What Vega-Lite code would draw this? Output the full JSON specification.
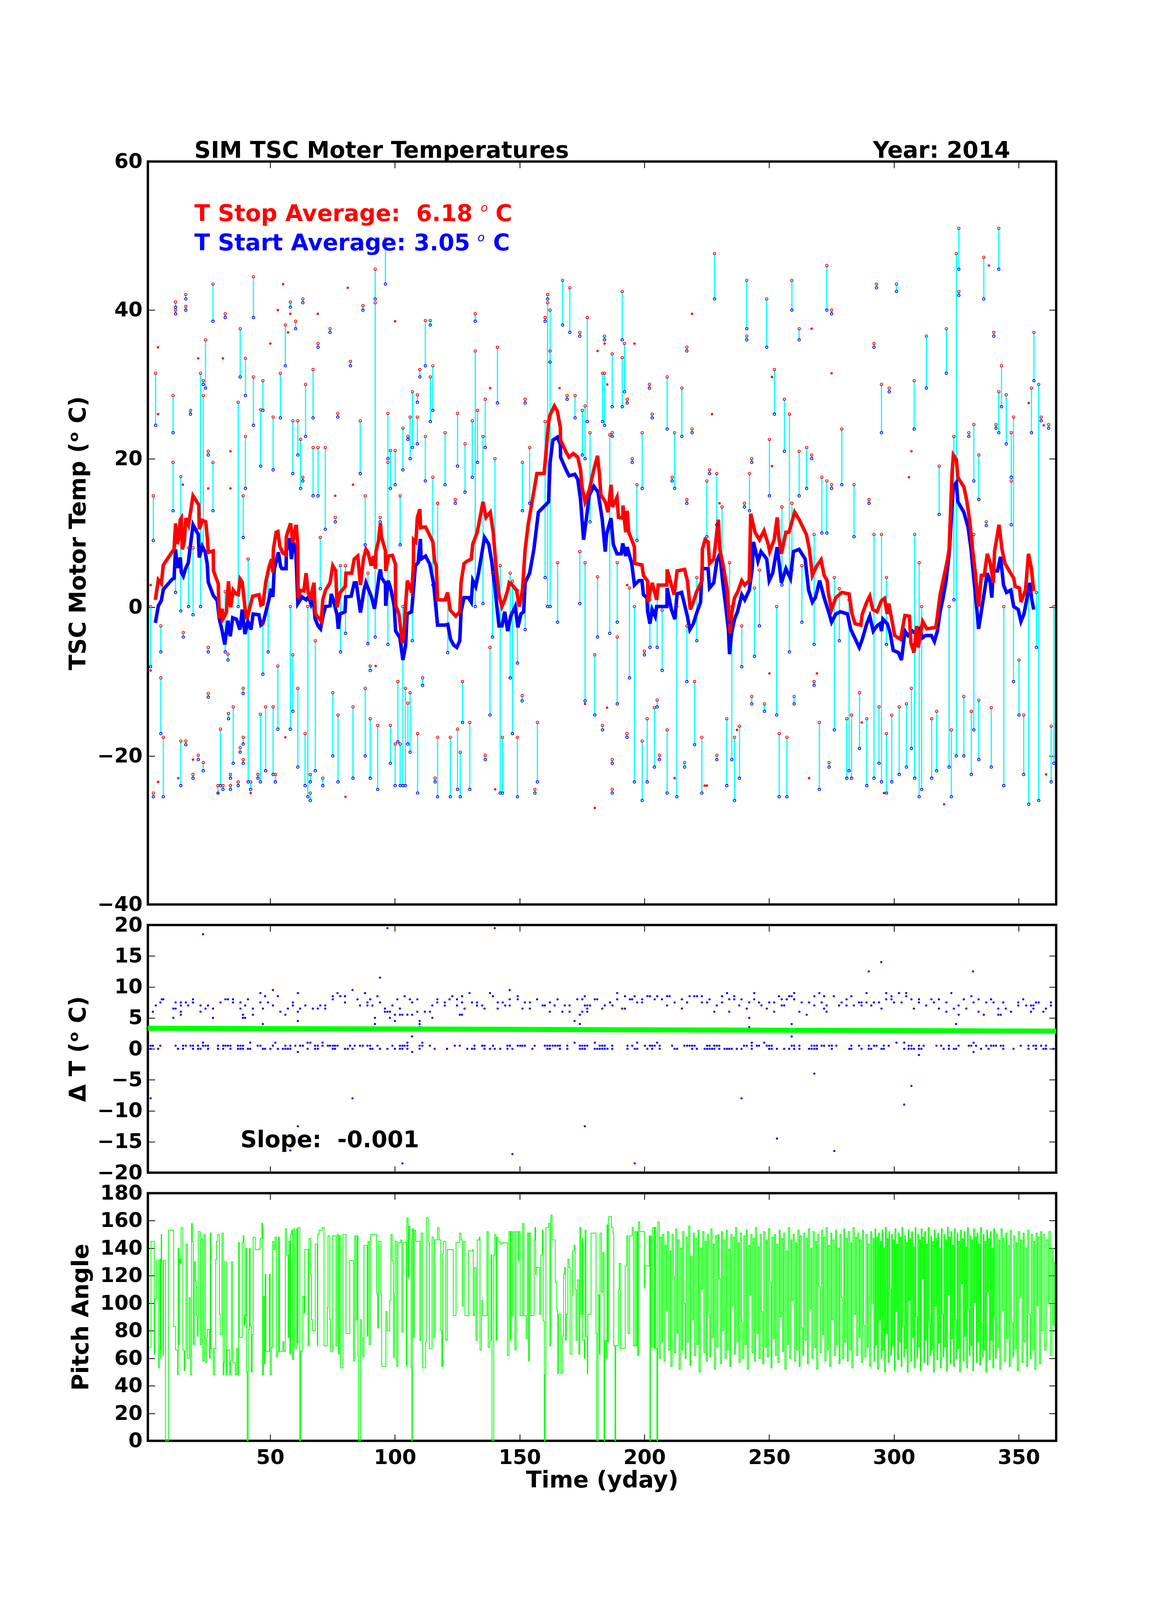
{
  "$schema": "https://vega.github.io/schema/vega-lite/v6.json",
  "background": "white",
  "padding": {"left": 168.5, "top": 353.5, "right": 10, "bottom": 300},
  "bounds": "flush",
  "spacing": 52.5,
  "config": {
    "font": "DejaVu Sans",
    "view": {"stroke": "black", "strokeWidth": 6},
    "axis": {
      "grid": false, "domain": false,
      "labelFont": "DejaVu Sans", "labelFontSize": 52, "labelFontWeight": "bold", "labelColor": "black",
      "titleFont": "DejaVu Sans", "titleFontSize": 58.5, "titleFontWeight": "bold", "titleColor": "black",
      "tickColor": "black", "tickWidth": 2, "labelOverlap": false
    },
    "text": {"font": "DejaVu Sans", "fontWeight": "bold", "fontSize": 58.5}
  },
  "datasets": {
    "ev": [
      {"d":2.1,"lo":-8.0,"hi":0.1},{"d":3.2,"lo":9.0,"hi":15.0},{"d":3.2,"lo":-25.5,"hi":-25.0},{"d":4.1,"lo":24.5,"hi":31.5},{"d":6.2,"lo":-17.0,"hi":-9.5},{"d":6.2,"lo":-6.0,"hi":-2.5},{"d":7.2,"lo":-25.5,"hi":-17.5},{"d":11.1,"lo":23.5,"hi":28.5},{"d":11.1,"lo":13.0,"hi":19.5},{"d":12.1,"lo":40.4,"hi":41.1},{"d":12.1,"lo":39.5,"hi":40.0},{"d":12.1,"lo":2.0,"hi":9.8},{"d":14.2,"lo":-0.5,"hi":17.6},{"d":14.2,"lo":-24.0,"hi":-18.0},{"d":15.2,"lo":-4.0,"hi":-3.4},{"d":16.2,"lo":41.5,"hi":42.1},{"d":16.2,"lo":40.0,"hi":40.5},{"d":16.2,"lo":-18.5,"hi":-18.0},{"d":17.3,"lo":0.1,"hi":8.0},{"d":18.1,"lo":26.0,"hi":26.5},{"d":19.1,"lo":-1.0,"hi":8.0},{"d":19.1,"lo":-23.0,"hi":-22.5},{"d":21.2,"lo":-20.5,"hi":-19.9},{"d":22.1,"lo":0.1,"hi":31.5},{"d":23.2,"lo":30.0,"hi":30.5},{"d":23.2,"lo":8.0,"hi":28.5},{"d":23.2,"lo":-22.0,"hi":-20.9},{"d":24.1,"lo":29.5,"hi":36.0},{"d":25.2,"lo":20.5,"hi":21.0},{"d":25.2,"lo":-6.0,"hi":-5.4},{"d":25.2,"lo":-12.1,"hi":-11.6},{"d":27.1,"lo":38.5,"hi":43.5},{"d":27.1,"lo":13.0,"hi":19.5},{"d":29.1,"lo":-25.0,"hi":-24.0},{"d":30.1,"lo":-24.0,"hi":-16.4},{"d":31.1,"lo":-24.5,"hi":-24.0},{"d":32.0,"lo":39.0,"hi":39.5},{"d":32.0,"lo":-6.0,"hi":2.1},{"d":33.1,"lo":-7.1,"hi":-6.3},{"d":33.3,"lo":-15.0,"hi":-14.3},{"d":34.1,"lo":-23.0,"hi":-22.5},{"d":34.1,"lo":-24.5,"hi":-24.0},{"d":35.2,"lo":-21.0,"hi":-13.4},{"d":37.2,"lo":0.1,"hi":27.6},{"d":37.2,"lo":-24.0,"hi":-23.5},{"d":38.0,"lo":31.0,"hi":37.5},{"d":38.0,"lo":-19.5,"hi":-18.9},{"d":39.2,"lo":9.4,"hi":15.0},{"d":39.2,"lo":-11.6,"hi":-10.9},{"d":39.2,"lo":-18.4,"hi":-17.5},{"d":39.2,"lo":-21.0,"hi":-20.5},{"d":40.1,"lo":28.5,"hi":33.5},{"d":40.1,"lo":16.0,"hi":23.0},{"d":41.2,"lo":-23.5,"hi":6.5},{"d":42.2,"lo":-24.5,"hi":-23.5},{"d":43.3,"lo":39.0,"hi":44.5},{"d":43.3,"lo":24.5,"hi":31.0},{"d":45.1,"lo":-23.0,"hi":-22.5},{"d":46.1,"lo":-23.5,"hi":-14.4},{"d":46.2,"lo":19.0,"hi":26.6},{"d":47.1,"lo":26.5,"hi":30.5},{"d":47.1,"lo":-9.0,"hi":-2.2},{"d":48.2,"lo":-22.0,"hi":-13.4},{"d":49.2,"lo":-6.0,"hi":4.6},{"d":51.2,"lo":18.5,"hi":25.6},{"d":51.2,"lo":-22.5,"hi":-13.4},{"d":52.1,"lo":-23.5,"hi":-22.5},{"d":53.1,"lo":-16.4,"hi":-7.9},{"d":54.1,"lo":25.5,"hi":31.5},{"d":56.1,"lo":32.5,"hi":38.0},{"d":58.1,"lo":40.4,"hi":41.1},{"d":58.1,"lo":-16.4,"hi":0.1},{"d":59.1,"lo":18.0,"hi":25.1},{"d":59.1,"lo":-14.0,"hi":-6.4},{"d":60.2,"lo":37.5,"hi":38.5},{"d":61.1,"lo":20.5,"hi":25.1},{"d":61.1,"lo":-21.5,"hi":-10.9},{"d":62.2,"lo":16.0,"hi":22.6},{"d":63.1,"lo":41.0,"hi":41.5},{"d":63.1,"lo":17.0,"hi":17.5},{"d":64.0,"lo":-24.0,"hi":-17.0},{"d":64.2,"lo":23.0,"hi":30.0},{"d":65.1,"lo":-25.5,"hi":0.1},{"d":66.1,"lo":-23.5,"hi":-22.5},{"d":66.1,"lo":-26.0,"hi":-25.0},{"d":67.2,"lo":25.5,"hi":32.0},{"d":67.2,"lo":15.0,"hi":21.5},{"d":68.1,"lo":-22.0,"hi":-4.5},{"d":69.2,"lo":35.0,"hi":35.5},{"d":69.2,"lo":15.0,"hi":21.5},{"d":70.1,"lo":2.5,"hi":9.4},{"d":71.1,"lo":-24.0,"hi":-23.0},{"d":72.1,"lo":10.5,"hi":21.5},{"d":74.0,"lo":37.0,"hi":37.5},{"d":75.1,"lo":-20.0,"hi":-11.5},{"d":76.1,"lo":11.5,"hi":12.1},{"d":77.1,"lo":25.6,"hi":26.1},{"d":77.2,"lo":-23.5,"hi":-14.5},{"d":78.2,"lo":-6.0,"hi":5.6},{"d":80.2,"lo":-3.5,"hi":5.6},{"d":82.2,"lo":32.5,"hi":33.1},{"d":83.2,"lo":-23.0,"hi":-13.4},{"d":86.1,"lo":18.0,"hi":25.1},{"d":87.2,"lo":40.0,"hi":40.6},{"d":88.1,"lo":8.4,"hi":15.0},{"d":88.1,"lo":-20.0,"hi":-10.9},{"d":89.2,"lo":-4.9,"hi":4.6},{"d":90.1,"lo":-8.5,"hi":-7.9},{"d":90.1,"lo":-23.0,"hi":-15.0},{"d":92.1,"lo":41.5,"hi":45.5},{"d":92.1,"lo":-4.0,"hi":41.0},{"d":93.1,"lo":-24.5,"hi":-15.9},{"d":94.1,"lo":11.5,"hi":12.1},{"d":96.2,"lo":43.5,"hi":49.6},{"d":97.2,"lo":20.0,"hi":26.1},{"d":97.2,"lo":-5.0,"hi":19.5},{"d":98.2,"lo":16.0,"hi":21.1},{"d":98.2,"lo":-21.0,"hi":-15.9},{"d":100.1,"lo":16.5,"hi":21.1},{"d":100.1,"lo":-24.0,"hi":-18.4},{"d":101.2,"lo":-18.1,"hi":-10.0},{"d":102.1,"lo":8.4,"hi":15.0},{"d":102.1,"lo":-24.0,"hi":-18.4},{"d":103.2,"lo":18.5,"hi":24.1},{"d":103.2,"lo":-24.0,"hi":0.1},{"d":104.2,"lo":-24.0,"hi":-10.9},{"d":105.2,"lo":22.6,"hi":23.0},{"d":105.2,"lo":-18.4,"hi":-12.9},{"d":106.1,"lo":20.0,"hi":25.6},{"d":106.1,"lo":-19.5,"hi":-11.5},{"d":107.0,"lo":21.5,"hi":29.0},{"d":107.0,"lo":-4.5,"hi":1.7},{"d":109.0,"lo":27.6,"hi":28.6},{"d":109.0,"lo":22.0,"hi":25.6},{"d":109.1,"lo":-25.0,"hi":-17.0},{"d":110.0,"lo":31.0,"hi":32.0},{"d":111.1,"lo":-10.5,"hi":-9.5},{"d":112.2,"lo":32.5,"hi":38.6},{"d":112.2,"lo":17.0,"hi":23.0},{"d":114.2,"lo":38.0,"hi":38.6},{"d":114.2,"lo":25.0,"hi":31.0},{"d":115.2,"lo":26.5,"hi":32.5},{"d":115.2,"lo":3.0,"hi":17.5},{"d":116.1,"lo":-23.5,"hi":-23.0},{"d":117.1,"lo":-2.0,"hi":14.0},{"d":117.1,"lo":-25.5,"hi":-17.5},{"d":120.1,"lo":16.5,"hi":23.5},{"d":121.2,"lo":-6.1,"hi":1.0},{"d":122.2,"lo":-25.5,"hi":-17.5},{"d":124.2,"lo":14.0,"hi":14.5},{"d":125.1,"lo":19.0,"hi":26.1},{"d":125.1,"lo":-24.5,"hi":-16.4},{"d":126.2,"lo":-25.5,"hi":-19.5},{"d":127.1,"lo":-15.5,"hi":-10.0},{"d":128.1,"lo":15.5,"hi":22.0},{"d":130.0,"lo":-24.5,"hi":-15.5},{"d":131.0,"lo":17.5,"hi":25.1},{"d":132.2,"lo":38.5,"hi":39.5},{"d":132.2,"lo":0.1,"hi":34.5},{"d":133.1,"lo":19.5,"hi":26.5},{"d":135.3,"lo":0.5,"hi":23.0},{"d":136.2,"lo":21.5,"hi":28.0},{"d":136.2,"lo":-20.5,"hi":-19.9},{"d":138.1,"lo":-14.5,"hi":-5.4},{"d":139.1,"lo":-4.0,"hi":4.6},{"d":140.1,"lo":3.0,"hi":20.0},{"d":141.1,"lo":27.5,"hi":35.0},{"d":142.2,"lo":-25.0,"hi":5.6},{"d":143.1,"lo":-25.0,"hi":-17.5},{"d":146.2,"lo":-9.5,"hi":4.6},{"d":147.1,"lo":-17.0,"hi":3.5},{"d":149.1,"lo":-7.5,"hi":2.3},{"d":149.1,"lo":-25.5,"hi":-17.5},{"d":151.0,"lo":-12.6,"hi":-11.9},{"d":151.1,"lo":13.0,"hi":19.5},{"d":152.2,"lo":27.5,"hi":28.0},{"d":152.2,"lo":-3.0,"hi":3.6},{"d":154.0,"lo":14.0,"hi":21.5},{"d":156.1,"lo":-25.0,"hi":-24.5},{"d":157.1,"lo":-23.5,"hi":-15.5},{"d":160.2,"lo":38.5,"hi":39.0},{"d":160.2,"lo":4.0,"hi":25.0},{"d":161.2,"lo":41.5,"hi":42.1},{"d":161.2,"lo":0.1,"hi":41.0},{"d":162.2,"lo":0.1,"hi":40.0},{"d":162.2,"lo":33.0,"hi":34.5},{"d":165.2,"lo":-2.0,"hi":6.0},{"d":167.2,"lo":38.0,"hi":44.0},{"d":169.0,"lo":28.0,"hi":28.5},{"d":170.1,"lo":37.0,"hi":43.0},{"d":172.2,"lo":25.5,"hi":28.5},{"d":174.1,"lo":36.5,"hi":37.0},{"d":174.1,"lo":0.5,"hi":7.5},{"d":175.1,"lo":20.5,"hi":26.5},{"d":176.2,"lo":20.0,"hi":27.1},{"d":176.2,"lo":-12.6,"hi":6.0},{"d":177.1,"lo":25.0,"hi":39.0},{"d":178.2,"lo":11.5,"hi":23.5},{"d":180.1,"lo":-14.5,"hi":-6.4},{"d":181.2,"lo":-4.0,"hi":4.1},{"d":183.2,"lo":25.0,"hi":31.5},{"d":183.2,"lo":-16.5,"hi":-15.9},
      {"d":184.0,"lo":36.0,"hi":36.5},{"d":184.0,"lo":24.5,"hi":31.5},{"d":186.1,"lo":-3.5,"hi":23.2},{"d":187.1,"lo":27.0,"hi":34.1},{"d":187.1,"lo":23.0,"hi":23.5},{"d":187.1,"lo":-21.0,"hi":-20.5},{"d":187.1,"lo":-25.0,"hi":-24.5},{"d":189.1,"lo":-2.0,"hi":6.0},{"d":189.1,"lo":-13.0,"hi":-4.0},{"d":191.1,"lo":36.0,"hi":42.5},{"d":191.1,"lo":27.0,"hi":33.6},{"d":192.0,"lo":29.0,"hi":35.5},{"d":193.0,"lo":-17.5,"hi":-17.0},{"d":193.1,"lo":27.5,"hi":28.0},{"d":194.0,"lo":-9.5,"hi":2.6},{"d":195.1,"lo":19.5,"hi":20.0},{"d":196.0,"lo":-23.5,"hi":0.1},{"d":197.0,"lo":9.0,"hi":16.5},{"d":199.1,"lo":16.0,"hi":23.5},{"d":199.1,"lo":-26.0,"hi":-18.0},{"d":200.0,"lo":-6.4,"hi":-5.9},{"d":201.1,"lo":-23.5,"hi":-15.0},{"d":202.0,"lo":29.5,"hi":30.0},{"d":202.2,"lo":-5.4,"hi":1.0},{"d":203.1,"lo":25.5,"hi":26.0},{"d":204.0,"lo":-21.5,"hi":-13.5},{"d":205.1,"lo":-13.4,"hi":-12.5},{"d":205.1,"lo":-5.4,"hi":2.2},{"d":206.0,"lo":-20.5,"hi":-19.9},{"d":207.1,"lo":-8.5,"hi":-0.4},{"d":209.1,"lo":24.0,"hi":31.0},{"d":209.1,"lo":-25.0,"hi":-16.5},{"d":211.1,"lo":17.0,"hi":17.5},{"d":212.1,"lo":16.0,"hi":23.5},{"d":213.0,"lo":-25.5,"hi":0.1},{"d":215.0,"lo":23.0,"hi":29.5},{"d":216.1,"lo":-21.5,"hi":-20.9},{"d":217.0,"lo":34.5,"hi":35.0},{"d":217.0,"lo":14.0,"hi":14.5},{"d":217.0,"lo":-10.0,"hi":-2.5},{"d":219.1,"lo":23.5,"hi":24.0},{"d":220.1,"lo":-18.5,"hi":-10.0},{"d":221.0,"lo":-4.5,"hi":4.0},{"d":223.0,"lo":-25.0,"hi":-17.5},{"d":225.0,"lo":9.5,"hi":17.0},{"d":226.1,"lo":18.0,"hi":18.5},{"d":228.1,"lo":41.5,"hi":47.6},{"d":229.0,"lo":11.1,"hi":18.0},{"d":229.0,"lo":-20.5,"hi":-19.9},{"d":231.1,"lo":5.0,"hi":13.5},{"d":233.0,"lo":-24.0,"hi":-15.0},{"d":234.1,"lo":-2.0,"hi":6.0},{"d":235.0,"lo":-20.5,"hi":0.1},{"d":236.1,"lo":-26.0,"hi":-17.5},{"d":238.1,"lo":-23.0,"hi":-16.0},{"d":239.0,"lo":-8.0,"hi":-2.5},{"d":240.1,"lo":13.5,"hi":14.0},{"d":241.0,"lo":37.5,"hi":44.0},{"d":241.0,"lo":36.0,"hi":36.5},{"d":242.1,"lo":13.0,"hi":18.0},{"d":243.0,"lo":19.5,"hi":20.0},{"d":243.0,"lo":-13.0,"hi":-12.0},{"d":244.1,"lo":-6.6,"hi":2.6},{"d":246.1,"lo":-2.5,"hi":5.0},{"d":248.1,"lo":-14.0,"hi":-13.0},{"d":249.0,"lo":35.0,"hi":41.5},{"d":250.1,"lo":15.0,"hi":22.6},{"d":252.1,"lo":26.0,"hi":32.0},{"d":253.0,"lo":-14.5,"hi":0.1},{"d":254.0,"lo":-25.5,"hi":-17.0},{"d":255.1,"lo":3.0,"hi":13.5},{"d":256.1,"lo":21.0,"hi":28.0},{"d":257.1,"lo":-25.5,"hi":-17.5},{"d":258.1,"lo":-6.0,"hi":26.0},{"d":259.1,"lo":40.0,"hi":44.0},{"d":259.1,"lo":5.0,"hi":14.0},{"d":260.0,"lo":-13.0,"hi":-12.0},{"d":262.0,"lo":36.0,"hi":37.5},{"d":262.0,"lo":15.0,"hi":21.0},{"d":263.1,"lo":-2.0,"hi":5.6},{"d":265.0,"lo":16.0,"hi":21.5},{"d":267.0,"lo":20.0,"hi":20.5},{"d":268.0,"lo":-10.5,"hi":-10.0},{"d":268.0,"lo":-5.0,"hi":9.8},{"d":270.1,"lo":-24.5,"hi":-15.5},{"d":271.1,"lo":10.0,"hi":17.5},{"d":273.1,"lo":40.0,"hi":46.0},{"d":273.1,"lo":10.0,"hi":17.0},{"d":274.0,"lo":-21.5,"hi":-20.9},{"d":275.0,"lo":39.5,"hi":40.0},{"d":275.0,"lo":16.0,"hi":16.5},{"d":276.1,"lo":-16.5,"hi":4.0},{"d":278.1,"lo":-4.5,"hi":2.5},{"d":279.1,"lo":16.5,"hi":24.0},{"d":281.1,"lo":-23.0,"hi":-15.0},{"d":282.0,"lo":-22.0,"hi":1.0},{"d":283.0,"lo":-23.0,"hi":-14.5},{"d":284.0,"lo":9.5,"hi":16.5},{"d":286.2,"lo":-19.0,"hi":-11.5},{"d":289.1,"lo":-24.0,"hi":-15.0},{"d":290.0,"lo":14.0,"hi":14.5},{"d":292.0,"lo":35.0,"hi":35.5},{"d":292.0,"lo":-23.0,"hi":9.8},{"d":293.0,"lo":43.0,"hi":43.5},{"d":294.0,"lo":-21.0,"hi":-13.4},{"d":295.0,"lo":23.5,"hi":30.0},{"d":295.0,"lo":-23.5,"hi":9.8},{"d":297.0,"lo":-25.0,"hi":-17.0},{"d":297.0,"lo":-5.0,"hi":4.0},{"d":298.1,"lo":29.0,"hi":29.5},{"d":299.1,"lo":-23.5,"hi":-14.5},{"d":301.0,"lo":42.5,"hi":43.5},{"d":302.1,"lo":-22.5,"hi":-13.4},{"d":305.0,"lo":-21.5,"hi":-13.0},{"d":307.0,"lo":-19.0,"hi":-10.9},{"d":308.1,"lo":24.0,"hi":30.5},{"d":308.3,"lo":-23.0,"hi":9.8},{"d":310.1,"lo":-25.5,"hi":6.0},{"d":311.1,"lo":-24.5,"hi":0.1},{"d":313.0,"lo":29.5,"hi":36.5},{"d":315.1,"lo":-23.0,"hi":-15.0},{"d":317.1,"lo":-22.0,"hi":-14.0},{"d":318.1,"lo":12.5,"hi":19.0},{"d":321.0,"lo":31.5,"hi":37.5},{"d":322.1,"lo":-21.5,"hi":0.1},{"d":323.0,"lo":-25.5,"hi":-16.5},{"d":324.0,"lo":1.0,"hi":23.0},{"d":325.0,"lo":-20.0,"hi":47.6},{"d":326.0,"lo":45.5,"hi":51.0},{"d":326.0,"lo":42.0,"hi":42.5},{"d":328.0,"lo":-20.0,"hi":-12.0},{"d":330.0,"lo":23.0,"hi":23.5},{"d":331.0,"lo":-22.5,"hi":-14.0},{"d":332.0,"lo":17.0,"hi":24.6},{"d":332.0,"lo":-16.5,"hi":9.8},{"d":334.0,"lo":14.5,"hi":20.5},{"d":334.0,"lo":-20.5,"hi":-12.5},{"d":336.0,"lo":41.5,"hi":47.1},{"d":337.0,"lo":11.0,"hi":11.5},{"d":339.0,"lo":-21.5,"hi":-13.5},{"d":340.0,"lo":36.5,"hi":37.0},{"d":340.9,"lo":24.1,"hi":24.6},{"d":342.0,"lo":45.5,"hi":51.0},{"d":342.0,"lo":23.5,"hi":29.0},{"d":343.1,"lo":27.0,"hi":32.5},{"d":344.0,"lo":-24.0,"hi":0.1},{"d":345.0,"lo":22.0,"hi":28.6},{"d":347.0,"lo":17.5,"hi":23.5},{"d":347.0,"lo":11.1,"hi":17.0},{"d":347.9,"lo":-10.0,"hi":25.6},{"d":350.1,"lo":-14.5,"hi":-7.1},{"d":352.0,"lo":-22.5,"hi":-14.5},{"d":354.0,"lo":-26.5,"hi":2.0},{"d":355.1,"lo":23.5,"hi":29.5},{"d":356.1,"lo":30.5,"hi":37.0},{"d":357.1,"lo":-5.4,"hi":2.0},{"d":358.0,"lo":-26.0,"hi":30.0},{"d":359.0,"lo":25.1,"hi":25.6},{"d":362.0,"lo":24.1,"hi":24.6},{"d":363.0,"lo":-23.5,"hi":-16.0},{"d":364.1,"lo":-21.0,"hi":0.1}
    ],
    "dots": [
      {"d":2.1,"v":3.0},{"d":2.1,"v":-8.5},{"d":5.1,"v":35.0},{"d":5.1,"v":26.0},{"d":5.1,"v":-23.5},{"d":13.2,"v":-23.0},{"d":15.0,"v":16.5},{"d":19.1,"v":-20.5},{"d":21.2,"v":33.5},{"d":25.2,"v":16.0},{"d":29.1,"v":-25.0},{"d":31.1,"v":33.5},{"d":34.1,"v":21.0},{"d":34.1,"v":16.0},{"d":42.2,"v":-25.0},{"d":50.1,"v":35.5},{"d":53.1,"v":40.0},{"d":55.2,"v":43.5},{"d":56.1,"v":-17.5},{"d":57.2,"v":37.0},{"d":58.1,"v":39.5},{"d":69.1,"v":39.5},{"d":76.1,"v":15.0},{"d":80.2,"v":-25.5},{"d":81.1,"v":43.0},{"d":83.2,"v":16.5},{"d":92.3,"v":-7.9},{"d":100.1,"v":38.5},{"d":138.2,"v":29.5},{"d":140.2,"v":-24.5},{"d":166.0,"v":29.5},{"d":176.2,"v":-13.0},{"d":180.1,"v":-27.0},{"d":181.2,"v":34.5},{"d":184.0,"v":35.5},{"d":185.0,"v":-13.5},{"d":185.1,"v":30.0},{"d":193.1,"v":3.0},{"d":196.0,"v":35.5},{"d":212.1,"v":-23.0},{"d":219.1,"v":39.5},{"d":224.1,"v":-24.0},{"d":225.0,"v":-24.0},{"d":227.1,"v":26.0},{"d":230.1,"v":14.0},{"d":237.1,"v":-16.5},{"d":250.1,"v":-8.9},{"d":251.1,"v":31.0},{"d":251.1,"v":19.0},{"d":266.0,"v":-23.0},{"d":267.0,"v":37.5},{"d":269.1,"v":-8.9},{"d":275.0,"v":31.5},{"d":287.1,"v":-15.5},{"d":296.0,"v":-25.0},{"d":306.0,"v":17.5},{"d":307.0,"v":21.0},{"d":320.1,"v":-26.5},{"d":338.0,"v":46.0},{"d":354.0,"v":27.5},{"d":360.0,"v":24.5},{"d":361.0,"v":-22.5}
    ],
    "stp": [
      {"d":4.0,"v":1.0},{"d":5.2,"v":3.7},{"d":6.4,"v":3.2},{"d":7.2,"v":5.7},{"d":10.8,"v":7.5},{"d":11.5,"v":7.8},{"d":12.1,"v":11.3},{"d":12.8,"v":8.5},{"d":13.2,"v":9.1},{"d":14.0,"v":11.8},{"d":14.4,"v":12.0},{"d":14.8,"v":7.8},{"d":15.6,"v":8.8},{"d":16.2,"v":12.0},{"d":17.3,"v":11.1},{"d":19.1,"v":15.0},{"d":21.4,"v":13.8},{"d":21.6,"v":10.5},{"d":22.8,"v":11.7},{"d":24.2,"v":11.5},{"d":24.9,"v":9.1},{"d":25.2,"v":7.4},{"d":27.2,"v":7.6},{"d":27.3,"v":4.9},{"d":29.2,"v":3.2},{"d":29.6,"v":-1.5},{"d":30.8,"v":-0.2},{"d":31.0,"v":-1.6},{"d":32.0,"v":-1.0},{"d":32.5,"v":-0.6},{"d":33.3,"v":3.5},{"d":34.2,"v":0.0},{"d":35.2,"v":2.3},{"d":36.3,"v":1.8},{"d":37.2,"v":1.7},{"d":38.0,"v":3.8},{"d":38.8,"v":3.4},{"d":39.9,"v":0.0},{"d":40.7,"v":-1.6},{"d":41.5,"v":-0.5},{"d":43.0,"v":1.5},{"d":45.5,"v":1.7},{"d":46.3,"v":0.3},{"d":47.1,"v":0.4},{"d":48.3,"v":3.5},{"d":49.6,"v":5.5},{"d":50.6,"v":6.5},{"d":51.1,"v":4.7},{"d":51.3,"v":7.8},{"d":52.4,"v":10.1},{"d":53.1,"v":10.2},{"d":53.9,"v":8.2},{"d":55.1,"v":7.3},{"d":56.3,"v":7.1},{"d":56.5,"v":9.5},{"d":57.0,"v":10.1},{"d":58.2,"v":11.3},{"d":59.1,"v":8.7},{"d":60.3,"v":10.9},{"d":60.5,"v":10.9},{"d":61.1,"v":8.2},{"d":61.2,"v":1.2},{"d":62.2,"v":2.3},{"d":63.5,"v":2.2},{"d":64.4,"v":4.6},{"d":65.2,"v":2.0},{"d":66.4,"v":1.0},{"d":66.7,"v":2.1},{"d":67.6,"v":3.3},{"d":68.1,"v":-0.9},{"d":69.9,"v":-1.6},{"d":70.5,"v":-1.9},{"d":71.1,"v":1.0},{"d":72.2,"v":2.3},{"d":74.0,"v":3.3},{"d":75.1,"v":5.6},{"d":76.3,"v":4.9},{"d":76.8,"v":0.0},{"d":78.1,"v":2.0},{"d":80.1,"v":2.8},{"d":80.4,"v":4.6},{"d":82.7,"v":4.6},{"d":83.7,"v":6.5},{"d":85.1,"v":6.9},{"d":86.2,"v":3.0},{"d":87.4,"v":6.5},{"d":88.4,"v":7.8},{"d":89.2,"v":7.4},{"d":90.5,"v":5.6},{"d":91.4,"v":6.9},{"d":92.2,"v":5.2},{"d":92.4,"v":7.5},{"d":93.4,"v":8.9},{"d":94.2,"v":11.3},{"d":94.6,"v":9.5},{"d":96.2,"v":7.6},{"d":96.3,"v":4.9},{"d":97.5,"v":6.9},{"d":99.0,"v":7.0},{"d":100.2,"v":5.8},{"d":100.3,"v":0.3},{"d":101.6,"v":-0.9},{"d":103.0,"v":-4.8},{"d":103.8,"v":-2.9},{"d":104.3,"v":0.4},{"d":105.0,"v":3.6},{"d":106.7,"v":2.0},{"d":107.4,"v":5.6},{"d":107.5,"v":9.1},{"d":108.4,"v":8.8},{"d":109.0,"v":12.1},{"d":110.0,"v":13.2},{"d":110.3,"v":10.7},{"d":111.3,"v":10.8},{"d":112.3,"v":10.8},{"d":114.2,"v":9.5},{"d":115.2,"v":8.8},{"d":115.9,"v":6.2},{"d":116.6,"v":5.6},{"d":117.1,"v":1.0},{"d":120.1,"v":1.0},{"d":121.1,"v":2.0},{"d":122.2,"v":-0.4},{"d":124.4,"v":-1.2},{"d":126.0,"v":-0.6},{"d":126.5,"v":3.3},{"d":127.7,"v":5.9},{"d":128.9,"v":6.2},{"d":130.6,"v":6.5},{"d":131.2,"v":8.5},{"d":133.0,"v":10.1},{"d":135.3,"v":14.2},{"d":136.5,"v":12.1},{"d":138.2,"v":12.8},{"d":139.4,"v":10.1},{"d":140.6,"v":5.2},{"d":141.7,"v":1.7},{"d":142.9,"v":0.1},{"d":144.0,"v":1.0},{"d":145.2,"v":2.3},{"d":145.8,"v":3.3},{"d":147.0,"v":3.0},{"d":148.7,"v":2.3},{"d":149.9,"v":0.1},{"d":151.1,"v":2.3},{"d":152.2,"v":7.8},{"d":153.4,"v":11.1},{"d":156.9,"v":18.0},{"d":159.8,"v":18.0},{"d":161.6,"v":24.9},{"d":162.2,"v":25.9},{"d":163.9,"v":27.1},{"d":165.1,"v":26.4},{"d":166.3,"v":24.2},{"d":166.4,"v":22.5},{"d":168.6,"v":20.9},{"d":169.8,"v":20.2},{"d":171.5,"v":20.7},{"d":173.3,"v":20.2},{"d":174.4,"v":18.5},{"d":175.0,"v":16.2},{"d":176.2,"v":14.2},{"d":177.9,"v":15.8},{"d":179.7,"v":18.5},{"d":181.2,"v":20.4},{"d":182.0,"v":17.8},{"d":182.5,"v":15.2},{"d":184.3,"v":14.2},{"d":185.4,"v":12.8},{"d":186.6,"v":16.5},{"d":187.2,"v":13.5},{"d":189.0,"v":14.8},{"d":189.6,"v":12.1},{"d":191.3,"v":12.0},{"d":191.4,"v":13.7},{"d":192.5,"v":10.1},{"d":193.1,"v":13.0},{"d":193.7,"v":10.1},{"d":194.9,"v":9.1},{"d":196.0,"v":8.1},{"d":196.1,"v":5.9},{"d":199.0,"v":5.7},{"d":199.6,"v":4.3},{"d":201.3,"v":3.5},{"d":201.4,"v":0.7},{"d":203.1,"v":3.3},{"d":204.9,"v":1.0},{"d":205.5,"v":3.0},{"d":209.0,"v":3.0},{"d":209.1,"v":5.1},{"d":210.8,"v":3.0},{"d":211.9,"v":1.7},{"d":213.1,"v":4.9},{"d":216.1,"v":5.1},{"d":217.2,"v":3.6},{"d":218.4,"v":-0.3},{"d":219.6,"v":0.7},{"d":220.8,"v":2.0},{"d":223.1,"v":3.6},{"d":223.2,"v":7.8},{"d":224.3,"v":9.1},{"d":225.5,"v":8.8},{"d":226.1,"v":5.9},{"d":227.8,"v":6.5},{"d":229.0,"v":10.1},{"d":229.6,"v":11.8},{"d":230.2,"v":7.8},{"d":231.4,"v":5.9},{"d":233.1,"v":2.6},{"d":234.3,"v":-3.5},{"d":234.9,"v":-0.9},{"d":236.1,"v":1.3},{"d":237.3,"v":2.0},{"d":239.0,"v":3.6},{"d":240.2,"v":3.0},{"d":242.0,"v":3.6},{"d":242.6,"v":12.6},{"d":244.3,"v":10.1},{"d":246.1,"v":9.1},{"d":247.9,"v":10.3},{"d":249.6,"v":8.5},{"d":250.2,"v":7.5},{"d":252.0,"v":9.1},{"d":253.2,"v":12.1},{"d":253.8,"v":9.5},{"d":254.9,"v":7.2},{"d":256.7,"v":10.1},{"d":257.9,"v":10.1},{"d":260.2,"v":12.8},{"d":262.0,"v":11.8},{"d":264.9,"v":9.8},{"d":266.1,"v":7.8},{"d":267.3,"v":4.3},{"d":269.1,"v":5.6},{"d":270.8,"v":6.4},{"d":272.0,"v":4.3},{"d":273.2,"v":3.6},{"d":273.8,"v":1.7},{"d":275.0,"v":-0.3},{"d":276.7,"v":1.3},{"d":279.1,"v":2.0},{"d":282.0,"v":1.8},{"d":283.2,"v":-0.9},{"d":284.4,"v":-2.2},{"d":286.7,"v":-2.4},{"d":287.3,"v":-0.9},{"d":289.1,"v":0.7},{"d":290.3,"v":1.5},{"d":291.5,"v":-0.3},{"d":293.2,"v":-0.6},{"d":295.0,"v":0.9},{"d":296.2,"v":1.2},{"d":297.3,"v":-0.9},{"d":297.9,"v":0.5},{"d":299.1,"v":-1.6},{"d":300.3,"v":-3.8},{"d":302.6,"v":-4.3},{"d":304.4,"v":-1.1},{"d":306.2,"v":-1.2},{"d":306.8,"v":-4.8},{"d":308.0,"v":-6.1},{"d":309.1,"v":-2.5},{"d":309.7,"v":-5.4},{"d":311.5,"v":-1.9},{"d":313.2,"v":-2.9},{"d":316.8,"v":-2.7},{"d":318.5,"v":1.7},{"d":319.7,"v":3.6},{"d":321.5,"v":6.5},{"d":322.1,"v":7.8},{"d":323.3,"v":18.2},{"d":323.8,"v":20.5},{"d":325.0,"v":19.9},{"d":325.6,"v":17.5},{"d":328.0,"v":16.2},{"d":329.1,"v":14.5},{"d":330.3,"v":11.8},{"d":331.5,"v":7.8},{"d":332.7,"v":4.3},{"d":333.9,"v":0.1},{"d":335.0,"v":4.3},{"d":336.2,"v":4.3},{"d":337.4,"v":7.2},{"d":338.6,"v":5.9},{"d":339.8,"v":3.3},{"d":340.3,"v":7.5},{"d":342.1,"v":11.1},{"d":343.3,"v":7.8},{"d":344.5,"v":5.9},{"d":346.2,"v":4.9},{"d":348.0,"v":3.9},{"d":348.6,"v":2.8},{"d":350.3,"v":2.6},{"d":350.9,"v":0.7},{"d":352.7,"v":2.3},{"d":353.9,"v":7.2},{"d":355.1,"v":5.2},{"d":356.0,"v":2.2}
    ],
    "sta": [
      {"d":4.0,"v":-2.1},{"d":5.2,"v":0.2},{"d":6.4,"v":0.9},{"d":7.2,"v":2.4},{"d":10.8,"v":3.8},{"d":11.5,"v":3.9},{"d":12.1,"v":7.8},{"d":12.8,"v":5.3},{"d":14.0,"v":6.7},{"d":14.4,"v":4.7},{"d":15.2,"v":4.2},{"d":16.0,"v":5.1},{"d":17.2,"v":6.0},{"d":19.1,"v":11.1},{"d":21.2,"v":9.8},{"d":21.6,"v":6.7},{"d":22.8,"v":8.2},{"d":24.0,"v":7.4},{"d":24.8,"v":5.8},{"d":25.2,"v":3.4},{"d":27.2,"v":1.6},{"d":28.8,"v":0.9},{"d":29.6,"v":-1.5},{"d":30.8,"v":-3.2},{"d":31.8,"v":-5.0},{"d":33.1,"v":-1.8},{"d":34.0,"v":-3.9},{"d":35.0,"v":-1.4},{"d":36.5,"v":-1.6},{"d":37.9,"v":-3.0},{"d":38.8,"v":-0.3},{"d":39.9,"v":-3.6},{"d":41.1,"v":-1.9},{"d":42.3,"v":-3.0},{"d":43.2,"v":-0.9},{"d":45.5,"v":-1.0},{"d":46.3,"v":-2.4},{"d":47.1,"v":-2.2},{"d":48.3,"v":-0.6},{"d":49.5,"v":1.0},{"d":50.3,"v":2.5},{"d":51.1,"v":1.4},{"d":51.6,"v":5.0},{"d":53.3,"v":7.4},{"d":54.2,"v":5.5},{"d":54.7,"v":5.2},{"d":56.4,"v":5.2},{"d":56.5,"v":7.6},{"d":57.8,"v":9.3},{"d":58.5,"v":6.5},{"d":59.4,"v":8.7},{"d":60.3,"v":7.6},{"d":61.1,"v":0.5},{"d":62.8,"v":1.4},{"d":64.4,"v":1.0},{"d":65.4,"v":1.4},{"d":66.4,"v":0.4},{"d":67.3,"v":1.2},{"d":68.0,"v":-1.5},{"d":69.2,"v":-2.5},{"d":70.2,"v":-2.9},{"d":71.3,"v":-1.0},{"d":72.2,"v":0.1},{"d":74.0,"v":0.2},{"d":74.5,"v":1.8},{"d":75.3,"v":1.0},{"d":76.8,"v":-1.0},{"d":77.3,"v":-2.9},{"d":78.0,"v":-0.9},{"d":80.0,"v":-0.6},{"d":80.3,"v":1.4},{"d":82.5,"v":1.5},{"d":83.7,"v":3.3},{"d":84.5,"v":3.3},{"d":86.2,"v":-0.7},{"d":87.6,"v":2.3},{"d":88.4,"v":3.3},{"d":90.7,"v":1.3},{"d":91.8,"v":-0.2},{"d":92.7,"v":1.8},{"d":93.8,"v":4.6},{"d":94.2,"v":5.1},{"d":94.6,"v":4.0},{"d":96.2,"v":3.2},{"d":96.3,"v":0.2},{"d":97.3,"v":3.6},{"d":98.4,"v":2.4},{"d":99.7,"v":0.2},{"d":100.3,"v":-3.2},{"d":102.0,"v":-4.1},{"d":103.2,"v":-7.1},{"d":104.3,"v":-5.1},{"d":104.9,"v":-0.9},{"d":106.7,"v":-0.6},{"d":107.5,"v":2.6},{"d":108.2,"v":5.6},{"d":109.3,"v":6.0},{"d":110.2,"v":9.2},{"d":110.5,"v":6.5},{"d":112.3,"v":6.9},{"d":114.0,"v":5.8},{"d":115.5,"v":3.2},{"d":117.1,"v":-2.4},{"d":120.1,"v":-2.4},{"d":121.2,"v":-2.3},{"d":122.3,"v":-4.3},{"d":123.6,"v":-5.1},{"d":124.8,"v":-5.4},{"d":126.0,"v":-4.5},{"d":126.5,"v":-0.6},{"d":127.7,"v":1.3},{"d":129.5,"v":1.3},{"d":130.6,"v":0.7},{"d":131.2,"v":3.6},{"d":132.4,"v":2.8},{"d":133.5,"v":4.6},{"d":135.9,"v":9.4},{"d":137.6,"v":8.5},{"d":138.8,"v":6.2},{"d":140.6,"v":1.0},{"d":141.7,"v":-2.5},{"d":142.9,"v":-2.5},{"d":144.0,"v":-0.6},{"d":145.2,"v":-3.2},{"d":146.4,"v":-1.2},{"d":148.2,"v":0.1},{"d":149.3,"v":-2.7},{"d":150.5,"v":-0.9},{"d":151.6,"v":-0.6},{"d":152.2,"v":3.3},{"d":154.0,"v":4.6},{"d":155.7,"v":7.8},{"d":157.5,"v":12.8},{"d":161.6,"v":14.2},{"d":162.2,"v":19.5},{"d":163.3,"v":22.5},{"d":165.1,"v":22.9},{"d":166.3,"v":21.9},{"d":166.4,"v":20.2},{"d":168.6,"v":18.5},{"d":169.8,"v":17.7},{"d":172.1,"v":17.9},{"d":173.3,"v":17.2},{"d":174.4,"v":14.5},{"d":175.6,"v":9.1},{"d":176.8,"v":12.1},{"d":177.9,"v":15.1},{"d":179.7,"v":16.3},{"d":181.4,"v":15.5},{"d":183.1,"v":11.8},{"d":184.3,"v":7.5},{"d":184.8,"v":9.8},{"d":186.6,"v":12.0},{"d":187.5,"v":8.5},{"d":189.0,"v":7.2},{"d":190.7,"v":7.2},{"d":191.3,"v":8.6},{"d":192.5,"v":6.9},{"d":193.1,"v":8.1},{"d":194.9,"v":5.9},{"d":195.4,"v":4.6},{"d":196.0,"v":3.0},{"d":197.8,"v":3.6},{"d":199.0,"v":3.6},{"d":199.6,"v":1.7},{"d":201.0,"v":1.3},{"d":201.3,"v":-0.6},{"d":202.2,"v":-2.2},{"d":203.1,"v":-0.3},{"d":204.3,"v":-1.2},{"d":204.9,"v":0.1},{"d":209.0,"v":0.1},{"d":209.1,"v":2.6},{"d":210.8,"v":-0.3},{"d":212.2,"v":-1.6},{"d":213.1,"v":1.8},{"d":214.9,"v":2.0},{"d":217.2,"v":-1.2},{"d":218.2,"v":-3.0},{"d":219.6,"v":-2.2},{"d":220.8,"v":-0.9},{"d":222.5,"v":0.7},{"d":223.1,"v":5.2},{"d":225.5,"v":5.2},{"d":226.1,"v":2.6},{"d":227.8,"v":3.3},{"d":229.0,"v":6.2},{"d":230.2,"v":7.2},{"d":231.4,"v":3.3},{"d":232.6,"v":0.1},{"d":233.7,"v":-3.2},{"d":234.1,"v":-6.3},{"d":234.9,"v":-3.5},{"d":236.1,"v":-1.6},{"d":237.3,"v":-0.6},{"d":239.0,"v":1.7},{"d":240.2,"v":1.0},{"d":242.0,"v":2.3},{"d":243.2,"v":5.2},{"d":243.7,"v":8.8},{"d":245.5,"v":6.2},{"d":246.7,"v":7.5},{"d":249.0,"v":6.5},{"d":250.0,"v":3.6},{"d":251.4,"v":4.6},{"d":253.2,"v":8.1},{"d":254.9,"v":3.3},{"d":256.7,"v":5.2},{"d":258.5,"v":3.9},{"d":259.7,"v":7.5},{"d":262.0,"v":7.8},{"d":264.4,"v":6.5},{"d":265.8,"v":2.3},{"d":267.3,"v":0.7},{"d":268.5,"v":1.3},{"d":270.2,"v":3.6},{"d":272.0,"v":1.3},{"d":273.8,"v":-0.6},{"d":275.0,"v":-2.0},{"d":276.7,"v":-0.9},{"d":278.5,"v":-0.6},{"d":281.4,"v":-0.9},{"d":282.6,"v":-2.9},{"d":284.4,"v":-4.2},{"d":286.1,"v":-5.4},{"d":287.3,"v":-4.3},{"d":289.1,"v":-2.2},{"d":290.3,"v":-1.2},{"d":291.7,"v":-3.2},{"d":293.2,"v":-2.5},{"d":294.4,"v":-2.2},{"d":295.0,"v":-3.2},{"d":295.6,"v":-1.6},{"d":297.3,"v":-2.2},{"d":298.5,"v":-3.5},{"d":299.7,"v":-5.8},{"d":301.8,"v":-6.1},{"d":303.0,"v":-7.1},{"d":304.4,"v":-3.2},{"d":305.6,"v":-3.8},{"d":307.4,"v":-3.2},{"d":308.5,"v":-3.5},{"d":310.3,"v":-2.9},{"d":311.5,"v":-4.1},{"d":312.7,"v":-3.8},{"d":315.0,"v":-3.8},{"d":316.2,"v":-4.6},{"d":317.4,"v":-3.2},{"d":318.5,"v":-0.6},{"d":319.7,"v":1.3},{"d":320.9,"v":3.6},{"d":322.1,"v":7.2},{"d":323.8,"v":16.2},{"d":325.0,"v":16.8},{"d":325.6,"v":14.2},{"d":328.0,"v":12.8},{"d":329.7,"v":10.8},{"d":330.9,"v":7.8},{"d":331.5,"v":5.6},{"d":333.3,"v":-0.6},{"d":333.9,"v":-2.9},{"d":335.0,"v":-0.6},{"d":336.2,"v":2.0},{"d":337.4,"v":4.6},{"d":338.6,"v":3.3},{"d":339.2,"v":1.3},{"d":339.8,"v":4.9},{"d":341.5,"v":4.9},{"d":342.7,"v":6.8},{"d":343.9,"v":3.0},{"d":345.1,"v":2.0},{"d":346.8,"v":2.3},{"d":348.0,"v":0.1},{"d":349.8,"v":-0.3},{"d":350.9,"v":-1.9},{"d":352.1,"v":-0.9},{"d":353.9,"v":2.3},{"d":354.5,"v":3.3},{"d":355.1,"v":1.3},{"d":356.0,"v":-0.3}
    ],
    "ann": [
      {"d":19.64,"v":52.0,"t":"T Stop Average:\u00a0 6.18","s":"stop"},
      {"d":19.64,"v":48.04,"t":"T Start Average: 3.05","s":"start"},
      {"d":140.3,"v":52.0,"t":"C","s":"stop"},
      {"d":139.36,"v":48.04,"t":"C","s":"start"}
    ],
    "sup": [
      {"d":134.35,"v":53.25,"t":"o","s":"stop"},
      {"d":133.1,"v":49.23,"t":"o","s":"start"}
    ],
    "dt": [
      {"d":3.0,"v":6.0},{"d":4.2,"v":7.0},{"d":6.0,"v":7.5},{"d":6.6,"v":8.0},{"d":7.2,"v":8.0},{"d":11.2,"v":5.0},{"d":11.2,"v":6.5},{"d":12.1,"v":6.5},{"d":12.1,"v":7.5},{"d":14.2,"v":7.0},{"d":14.2,"v":7.5},{"d":14.2,"v":6.0},{"d":14.2,"v":5.5},{"d":16.2,"v":7.5},{"d":17.2,"v":7.0},{"d":19.1,"v":8.0},{"d":19.1,"v":7.5},{"d":22.1,"v":7.0},{"d":22.1,"v":6.0},{"d":24.1,"v":6.5},{"d":25.1,"v":7.0},{"d":27.1,"v":6.5},{"d":27.1,"v":5.0},{"d":30.1,"v":7.5},{"d":32.1,"v":8.0},{"d":33.1,"v":8.0},{"d":35.1,"v":8.0},{"d":35.1,"v":7.5},{"d":38.1,"v":7.5},{"d":38.1,"v":6.5},{"d":39.1,"v":5.5},{"d":39.1,"v":5.0},{"d":40.0,"v":7.0},{"d":40.0,"v":5.0},{"d":41.1,"v":8.0},{"d":43.1,"v":6.5},{"d":43.1,"v":5.5},{"d":46.1,"v":9.0},{"d":46.1,"v":7.5},{"d":47.1,"v":6.5},{"d":47.1,"v":4.0},{"d":48.0,"v":8.5},{"d":49.1,"v":7.5},{"d":51.1,"v":9.5},{"d":51.1,"v":7.0},{"d":53.1,"v":8.5},{"d":54.1,"v":6.0},{"d":56.1,"v":5.5},{"d":57.1,"v":6.5},{"d":59.1,"v":7.5},{"d":59.1,"v":7.0},{"d":61.1,"v":9.0},{"d":61.1,"v":6.0},{"d":61.1,"v":4.5},{"d":62.0,"v":6.5},{"d":64.1,"v":7.0},{"d":67.1,"v":6.5},{"d":69.1,"v":6.5},{"d":70.1,"v":7.0},{"d":72.1,"v":7.0},{"d":72.1,"v":6.5},{"d":75.1,"v":8.5},{"d":75.1,"v":8.0},{"d":77.0,"v":9.0},{"d":78.1,"v":8.5},{"d":80.0,"v":8.5},{"d":80.0,"v":7.5},{"d":83.0,"v":9.5},{"d":85.0,"v":8.0},{"d":86.0,"v":7.0},{"d":88.0,"v":9.0},{"d":89.0,"v":7.5},{"d":89.0,"v":7.0},{"d":90.1,"v":8.0},{"d":91.0,"v":7.0},{"d":92.0,"v":5.0},{"d":92.0,"v":4.0},{"d":93.0,"v":8.5},{"d":94.0,"v":7.5},{"d":96.0,"v":6.5},{"d":96.0,"v":6.0},{"d":97.0,"v":6.0},{"d":98.0,"v":6.0},{"d":98.0,"v":5.0},{"d":99.0,"v":7.0},{"d":100.0,"v":5.5},{"d":100.0,"v":4.5},{"d":101.0,"v":8.0},{"d":102.0,"v":6.5},{"d":102.0,"v":5.5},{"d":103.0,"v":5.5},{"d":103.9,"v":8.5},{"d":105.0,"v":5.5},{"d":106.0,"v":8.0},{"d":106.9,"v":7.5},{"d":106.9,"v":5.5},{"d":109.0,"v":8.0},{"d":109.0,"v":6.0},{"d":109.9,"v":4.5},{"d":109.9,"v":4.0},{"d":109.9,"v":3.5},{"d":112.0,"v":6.0},{"d":114.0,"v":6.0},{"d":115.0,"v":7.0},{"d":115.0,"v":5.0},{"d":117.0,"v":8.0},{"d":117.0,"v":7.5},{"d":120.0,"v":7.5},{"d":120.0,"v":7.0},{"d":121.9,"v":8.0},{"d":123.0,"v":8.5},{"d":124.9,"v":8.0},{"d":124.9,"v":7.0},{"d":126.0,"v":5.5},{"d":126.9,"v":8.5},{"d":126.9,"v":7.5},{"d":126.9,"v":5.5},{"d":127.9,"v":6.5},{"d":129.9,"v":9.0},{"d":130.9,"v":7.5},{"d":132.9,"v":7.5},{"d":132.9,"v":7.0},{"d":135.0,"v":7.0},{"d":135.9,"v":6.5},
      {"d":2.1,"v":-8.0},{"d":23.1,"v":18.5},{"d":61.1,"v":-12.5},{"d":58.1,"v":-16.4},{"d":83.0,"v":-8.0},{"d":94.0,"v":11.5},{"d":97.0,"v":19.5},{"d":103.0,"v":-18.5},{"d":106.9,"v":2.0},
      {"d":2.1,"v":0.5},{"d":3.0,"v":0.5},{"d":6.0,"v":0.5},{"d":12.1,"v":0.5},{"d":15.1,"v":0.5},{"d":16.2,"v":0.5},{"d":18.1,"v":0.5},{"d":19.1,"v":0.5},{"d":21.1,"v":0.5},{"d":23.1,"v":0.5},{"d":24.1,"v":0.5},{"d":25.1,"v":0.5},{"d":29.1,"v":0.5},{"d":31.2,"v":0.5},{"d":32.1,"v":0.5},{"d":33.1,"v":0.5},{"d":34.1,"v":0.5},{"d":37.1,"v":0.5},{"d":38.1,"v":0.5},{"d":39.1,"v":0.5},{"d":45.0,"v":0.5},{"d":46.1,"v":0.5},{"d":51.1,"v":0.5},{"d":56.1,"v":0.5},{"d":58.1,"v":0.5},{"d":60.1,"v":0.5},{"d":62.0,"v":0.5},{"d":63.1,"v":0.5},{"d":68.0,"v":0.5},{"d":69.1,"v":0.5},{"d":71.0,"v":0.5},{"d":73.1,"v":0.5},{"d":74.0,"v":0.5},{"d":75.1,"v":0.5},{"d":76.0,"v":0.5},{"d":77.0,"v":0.5},{"d":82.0,"v":0.5},{"d":83.9,"v":0.5},{"d":86.0,"v":0.5},{"d":87.1,"v":0.5},{"d":89.0,"v":0.5},{"d":90.1,"v":0.5},{"d":93.0,"v":0.5},{"d":99.0,"v":0.5},{"d":102.0,"v":0.5},{"d":103.0,"v":0.5},{"d":103.9,"v":0.5},{"d":105.0,"v":0.5},{"d":109.9,"v":0.5},{"d":111.0,"v":0.5},{"d":114.0,"v":0.5},{"d":124.0,"v":0.5},{"d":126.0,"v":0.5},{"d":131.9,"v":0.5},{"d":135.0,"v":0.5},{"d":135.9,"v":0.5},
      {"d":2.1,"v":0.0},{"d":5.1,"v":0.0},{"d":13.1,"v":0.0},{"d":15.1,"v":0.0},{"d":19.1,"v":0.0},{"d":21.1,"v":0.0},{"d":22.1,"v":0.0},{"d":25.1,"v":0.0},{"d":29.1,"v":0.0},{"d":31.2,"v":0.0},{"d":34.1,"v":0.0},{"d":37.1,"v":0.0},{"d":38.1,"v":0.0},{"d":39.1,"v":0.0},{"d":41.1,"v":0.0},{"d":42.0,"v":0.0},{"d":47.1,"v":0.0},{"d":48.0,"v":0.0},{"d":50.1,"v":0.0},{"d":53.1,"v":0.0},{"d":55.1,"v":0.0},{"d":56.1,"v":0.0},{"d":57.1,"v":0.0},{"d":58.1,"v":0.0},{"d":65.0,"v":0.0},{"d":68.0,"v":0.0},{"d":69.1,"v":0.0},{"d":75.1,"v":0.0},{"d":76.0,"v":0.0},{"d":80.0,"v":0.0},{"d":81.1,"v":0.0},{"d":83.0,"v":0.0},{"d":90.1,"v":0.0},{"d":91.0,"v":0.0},{"d":94.0,"v":0.0},{"d":97.0,"v":0.0},{"d":100.0,"v":0.0},{"d":102.0,"v":0.0},{"d":103.0,"v":0.0},{"d":105.0,"v":0.0},{"d":109.9,"v":0.0},{"d":115.9,"v":0.0},{"d":120.9,"v":0.0},{"d":129.0,"v":0.0},{"d":130.9,"v":0.0},{"d":131.9,"v":0.0},{"d":135.9,"v":0.0},
      {"d":23.1,"v":1.0},{"d":42.0,"v":1.0},{"d":52.1,"v":1.0},{"d":65.0,"v":1.0},{"d":66.1,"v":1.0},{"d":71.0,"v":1.0},{"d":105.0,"v":1.0},{"d":111.0,"v":1.0},{"d":61.1,"v":-0.5},{"d":106.9,"v":-0.5},
      {"d":138.1,"v":9.0},{"d":139.3,"v":8.5},{"d":141.2,"v":7.5},{"d":141.2,"v":6.5},{"d":143.2,"v":7.5},{"d":144.2,"v":7.0},{"d":146.0,"v":9.5},{"d":146.0,"v":8.0},{"d":146.0,"v":7.0},{"d":149.2,"v":8.5},{"d":149.2,"v":8.0},{"d":151.1,"v":6.5},{"d":152.1,"v":7.5},{"d":154.1,"v":7.5},{"d":154.1,"v":6.5},{"d":157.0,"v":8.0},{"d":159.2,"v":7.0},{"d":160.1,"v":7.0},{"d":162.1,"v":7.5},{"d":162.1,"v":6.0},{"d":164.0,"v":7.0},{"d":165.2,"v":8.0},{"d":167.1,"v":6.0},{"d":168.1,"v":7.0},{"d":170.0,"v":7.0},{"d":170.0,"v":6.0},{"d":172.0,"v":4.5},{"d":173.1,"v":8.0},{"d":174.1,"v":5.5},{"d":174.1,"v":4.0},{"d":175.1,"v":8.0},{"d":175.1,"v":6.0},{"d":176.1,"v":8.5},{"d":176.1,"v":7.0},{"d":177.1,"v":7.0},{"d":177.1,"v":6.5},{"d":177.1,"v":6.0},{"d":178.2,"v":7.0},{"d":180.1,"v":8.0},{"d":181.1,"v":8.0},{"d":183.1,"v":6.5},{"d":184.1,"v":7.0},{"d":186.2,"v":7.5},{"d":187.2,"v":7.0},{"d":189.1,"v":9.0},{"d":189.1,"v":8.0},{"d":191.1,"v":6.5},{"d":192.2,"v":6.5},{"d":192.2,"v":8.5},{"d":194.2,"v":8.0},{"d":195.1,"v":8.0},{"d":196.1,"v":8.5},{"d":197.1,"v":7.5},{"d":199.1,"v":7.5},{"d":199.1,"v":8.0},{"d":201.2,"v":8.5},{"d":202.2,"v":8.5},{"d":204.1,"v":8.0},{"d":205.1,"v":8.5},{"d":207.0,"v":8.0},{"d":209.1,"v":8.5},{"d":210.1,"v":8.5},{"d":209.1,"v":7.0},{"d":212.1,"v":7.5},{"d":215.0,"v":8.0},{"d":215.0,"v":6.5},{"d":217.1,"v":7.5},{"d":218.1,"v":8.5},{"d":220.0,"v":8.5},{"d":221.1,"v":8.5},{"d":223.0,"v":8.5},{"d":223.0,"v":7.5},{"d":225.1,"v":7.5},{"d":226.1,"v":8.0},{"d":228.0,"v":6.0},{"d":229.0,"v":7.0},{"d":231.1,"v":7.5},{"d":231.1,"v":8.5},{"d":233.1,"v":9.0},{"d":234.0,"v":8.0},{"d":234.0,"v":6.0},{"d":236.0,"v":8.5},{"d":236.0,"v":8.0},{"d":238.0,"v":7.0},{"d":238.9,"v":8.0},{"d":241.0,"v":6.5},{"d":242.0,"v":7.5},{"d":242.0,"v":5.0},{"d":244.0,"v":9.0},{"d":244.0,"v":8.0},{"d":245.9,"v":7.5},{"d":246.9,"v":7.0},{"d":249.0,"v":6.5},{"d":250.0,"v":7.5},{"d":252.0,"v":7.5},{"d":252.0,"v":6.0},{"d":253.9,"v":8.5},{"d":255.0,"v":8.0},{"d":255.0,"v":7.0},{"d":256.0,"v":7.0},{"d":257.0,"v":8.0},{"d":258.0,"v":8.5},{"d":259.0,"v":8.5},{"d":260.0,"v":9.0},{"d":260.0,"v":8.0},{"d":262.1,"v":6.0},{"d":263.0,"v":7.5},{"d":265.0,"v":5.5},{"d":266.0,"v":7.5},{"d":268.1,"v":7.0},{"d":268.1,"v":8.5},{"d":270.1,"v":9.0},{"d":271.0,"v":7.5},{"d":272.0,"v":8.5},{"d":272.0,"v":6.5},{"d":273.0,"v":7.0},{"d":273.0,"v":6.0},{"d":275.9,"v":8.5},{"d":278.0,"v":7.0},{"d":279.0,"v":7.5},{"d":281.0,"v":8.0},{"d":281.0,"v":7.0},{"d":282.9,"v":8.5},{"d":283.9,"v":7.0},{"d":286.0,"v":7.5},{"d":287.0,"v":7.5},{"d":287.0,"v":7.0},{"d":289.0,"v":9.0},{"d":289.0,"v":7.5},{"d":290.9,"v":7.0},{"d":292.0,"v":7.5},{"d":294.0,"v":7.5},{"d":295.0,"v":6.5},{"d":296.9,"v":8.0},{"d":296.9,"v":9.0},{"d":299.0,"v":8.5},{"d":299.0,"v":8.0},{"d":300.0,"v":7.5},{"d":302.0,"v":9.0},{"d":303.0,"v":7.5},{"d":304.9,"v":9.0},{"d":304.9,"v":8.5},{"d":307.0,"v":8.0},{"d":308.0,"v":6.5},{"d":310.0,"v":8.0},{"d":310.0,"v":7.5},{"d":312.9,"v":7.0},{"d":315.0,"v":8.0},{"d":316.0,"v":7.5},{"d":318.0,"v":8.0},{"d":318.0,"v":6.5},{"d":321.0,"v":7.5},{"d":321.0,"v":6.0},{"d":323.0,"v":9.0},{"d":324.0,"v":6.5},{"d":325.9,"v":7.0},{"d":325.9,"v":5.5},{"d":328.0,"v":8.0},{"d":329.0,"v":6.5},{"d":331.0,"v":8.5},{"d":331.9,"v":7.5},{"d":333.9,"v":8.0},{"d":333.9,"v":6.0},{"d":336.0,"v":5.5},{"d":337.0,"v":7.5},{"d":338.9,"v":8.0},{"d":339.9,"v":7.5},{"d":341.8,"v":6.5},{"d":341.8,"v":5.5},{"d":342.8,"v":5.5},{"d":343.8,"v":7.5},{"d":344.8,"v":6.5},{"d":346.9,"v":6.0},{"d":349.8,"v":7.5},{"d":349.8,"v":7.0},{"d":351.8,"v":8.0},{"d":353.0,"v":7.0},{"d":354.9,"v":7.0},{"d":354.9,"v":6.0},{"d":355.9,"v":7.0},{"d":355.9,"v":6.5},{"d":356.9,"v":7.5},{"d":358.0,"v":7.5},{"d":359.9,"v":6.0},{"d":360.9,"v":6.5},{"d":362.9,"v":7.5},{"d":362.9,"v":7.0},
      {"d":242.0,"v":3.5},{"d":259.0,"v":4.0},{"d":259.0,"v":2.0},{"d":324.9,"v":4.0},
      {"d":140.0,"v":19.5},{"d":289.9,"v":12.5},{"d":294.9,"v":14.0},{"d":331.7,"v":12.5},{"d":268.1,"v":-4.0},{"d":307.0,"v":-6.0},{"d":238.9,"v":-8.0},{"d":304.1,"v":-9.0},{"d":176.1,"v":-12.5},{"d":253.1,"v":-14.5},{"d":276.1,"v":-16.5},{"d":147.1,"v":-17.0},{"d":196.1,"v":-18.5},
      {"d":139.3,"v":0.5},{"d":145.1,"v":0.5},{"d":146.1,"v":0.5},{"d":149.2,"v":0.5},{"d":150.2,"v":0.5},{"d":151.1,"v":0.5},{"d":152.1,"v":0.5},{"d":156.0,"v":0.5},{"d":160.1,"v":0.5},{"d":161.1,"v":0.5},{"d":162.1,"v":0.5},{"d":163.2,"v":0.5},{"d":164.2,"v":0.5},{"d":165.2,"v":0.5},{"d":166.1,"v":0.5},{"d":169.1,"v":0.5},{"d":174.1,"v":0.5},{"d":175.1,"v":0.5},{"d":176.1,"v":0.5},{"d":177.1,"v":0.5},{"d":182.1,"v":0.5},{"d":183.1,"v":0.5},{"d":184.1,"v":0.5},{"d":187.1,"v":0.5},{"d":193.2,"v":0.5},{"d":195.1,"v":0.5},{"d":200.2,"v":0.5},{"d":202.2,"v":0.5},{"d":203.1,"v":0.5},{"d":204.1,"v":0.5},{"d":206.1,"v":0.5},{"d":211.1,"v":0.5},{"d":216.0,"v":0.5},{"d":217.1,"v":0.5},{"d":218.1,"v":0.5},{"d":219.1,"v":0.5},{"d":220.1,"v":0.5},{"d":225.1,"v":0.5},{"d":226.1,"v":0.5},{"d":228.0,"v":0.5},{"d":229.0,"v":0.5},{"d":230.0,"v":0.5},{"d":239.9,"v":0.5},{"d":241.0,"v":0.5},{"d":243.0,"v":0.5},{"d":245.0,"v":0.5},{"d":245.9,"v":0.5},{"d":249.0,"v":0.5},{"d":250.0,"v":0.5},{"d":251.0,"v":0.5},{"d":259.0,"v":0.5},{"d":260.0,"v":0.5},{"d":262.1,"v":0.5},{"d":267.0,"v":0.5},{"d":268.1,"v":0.5},{"d":269.1,"v":0.5},{"d":271.0,"v":0.5},{"d":272.0,"v":0.5},{"d":274.0,"v":0.5},{"d":275.1,"v":0.5},{"d":276.9,"v":0.5},{"d":282.9,"v":0.5},{"d":286.0,"v":0.5},{"d":289.9,"v":0.5},{"d":292.0,"v":0.5},{"d":293.0,"v":0.5},{"d":295.9,"v":0.5},{"d":297.9,"v":0.5},{"d":305.9,"v":0.5},{"d":307.0,"v":0.5},{"d":310.0,"v":0.5},{"d":311.9,"v":0.5},{"d":317.0,"v":0.5},{"d":318.9,"v":0.5},{"d":322.0,"v":0.5},{"d":325.9,"v":0.5},{"d":330.0,"v":0.5},{"d":331.0,"v":0.5},{"d":332.9,"v":0.5},{"d":337.0,"v":0.5},{"d":338.9,"v":0.5},{"d":339.9,"v":0.5},{"d":340.9,"v":0.5},{"d":342.8,"v":0.5},{"d":343.8,"v":0.5},{"d":350.8,"v":0.5},{"d":353.9,"v":0.5},{"d":355.9,"v":0.5},{"d":356.9,"v":0.5},{"d":359.0,"v":0.5},{"d":360.9,"v":0.5},
      {"d":138.1,"v":0.0},{"d":140.0,"v":0.0},{"d":142.2,"v":0.0},{"d":145.1,"v":0.0},{"d":147.1,"v":0.0},{"d":155.1,"v":0.0},{"d":161.1,"v":0.0},{"d":162.1,"v":0.0},{"d":166.1,"v":0.0},{"d":169.1,"v":0.0},{"d":174.1,"v":0.0},{"d":175.1,"v":0.0},{"d":176.1,"v":0.0},{"d":180.1,"v":0.0},{"d":181.1,"v":0.0},{"d":182.1,"v":0.0},{"d":183.1,"v":0.0},{"d":184.1,"v":0.0},{"d":185.2,"v":0.0},{"d":187.1,"v":0.0},{"d":193.2,"v":0.0},{"d":196.1,"v":0.0},{"d":197.1,"v":0.0},{"d":201.2,"v":0.0},{"d":203.1,"v":0.0},{"d":206.1,"v":0.0},{"d":212.1,"v":0.0},{"d":213.1,"v":0.0},{"d":219.1,"v":0.0},{"d":221.0,"v":0.0},{"d":224.1,"v":0.0},{"d":225.1,"v":0.0},{"d":226.1,"v":0.0},{"d":227.1,"v":0.0},{"d":228.0,"v":0.0},{"d":230.0,"v":0.0},{"d":232.1,"v":0.0},{"d":233.1,"v":0.0},{"d":234.0,"v":0.0},{"d":235.0,"v":0.0},{"d":237.0,"v":0.0},{"d":238.9,"v":0.0},{"d":243.0,"v":0.0},{"d":250.0,"v":0.0},{"d":251.0,"v":0.0},{"d":253.1,"v":0.0},{"d":256.0,"v":0.0},{"d":258.0,"v":0.0},{"d":260.0,"v":0.0},{"d":262.1,"v":0.0},{"d":266.0,"v":0.0},{"d":267.0,"v":0.0},{"d":268.1,"v":0.0},{"d":269.1,"v":0.0},{"d":275.1,"v":0.0},{"d":282.1,"v":0.0},{"d":282.9,"v":0.0},{"d":287.0,"v":0.0},{"d":289.9,"v":0.0},{"d":290.9,"v":0.0},{"d":295.0,"v":0.0},{"d":295.9,"v":0.0},{"d":304.1,"v":0.0},{"d":305.9,"v":0.0},{"d":307.0,"v":0.0},{"d":308.0,"v":0.0},{"d":310.0,"v":0.0},{"d":311.0,"v":0.0},{"d":319.9,"v":0.0},{"d":322.0,"v":0.0},{"d":324.0,"v":0.0},{"d":324.9,"v":0.0},{"d":334.9,"v":0.0},{"d":337.9,"v":0.0},{"d":343.8,"v":0.0},{"d":347.9,"v":0.0},{"d":353.9,"v":0.0},{"d":356.9,"v":0.0},{"d":359.9,"v":0.0},{"d":360.9,"v":0.0},{"d":363.9,"v":0.0},
      {"d":172.0,"v":1.0},{"d":180.1,"v":1.0},{"d":197.1,"v":1.0},{"d":205.1,"v":1.0},{"d":243.0,"v":1.0},{"d":248.0,"v":1.0},{"d":301.0,"v":1.0},{"d":304.1,"v":1.0},{"d":331.9,"v":1.0},{"d":331.9,"v":-0.5},{"d":310.0,"v":-1.0}
    ],
    "fit": [{"d":1,"v":3.33},{"d":365,"v":2.86}],
    "pa": [
      {"d":1.75,"v":68},{"d":2.25,"v":145},{"d":3.55,"v":63},{"d":3.75,"v":103},{"d":4.35,"v":116},{"d":4.55,"v":131},{"d":5.35,"v":53},{"d":5.55,"v":66},{"d":5.84,"v":132},{"d":6.14,"v":60},{"d":6.34,"v":150},{"d":6.54,"v":130},{"d":7.04,"v":62},{"d":7.24,"v":131},{"d":8.04,"v":0},{"d":9.24,"v":153},{"d":11.33,"v":83},{"d":12.13,"v":66},{"d":12.93,"v":48},{"d":13.13,"v":140},{"d":13.33,"v":70},{"d":13.63,"v":132},{"d":14.03,"v":129},{"d":14.33,"v":155},{"d":15.03,"v":66},{"d":15.53,"v":51},{"d":15.82,"v":65},{"d":16.32,"v":143},{"d":16.82,"v":60},{"d":17.52,"v":104},{"d":18.02,"v":48},{"d":18.52,"v":158},{"d":18.82,"v":145},{"d":19.22,"v":70},{"d":19.62,"v":130},{"d":20.02,"v":116},{"d":20.32,"v":112},{"d":20.52,"v":91},{"d":20.81,"v":76},{"d":21.21,"v":152},{"d":22.01,"v":70},{"d":22.51,"v":147},{"d":23.01,"v":58},{"d":23.51,"v":150},{"d":24.01,"v":57},{"d":24.51,"v":75},{"d":24.81,"v":81},{"d":25.7,"v":60},{"d":26.0,"v":151},{"d":26.3,"v":67},{"d":27.2,"v":48},{"d":27.7,"v":67},{"d":28.2,"v":132},{"d":28.5,"v":145},{"d":29.0,"v":150},{"d":29.7,"v":92},{"d":30.0,"v":77},{"d":30.7,"v":151},{"d":31.2,"v":48},{"d":31.5,"v":57},{"d":31.8,"v":130},{"d":32.5,"v":48},{"d":32.8,"v":66},{"d":33.8,"v":48},{"d":34.2,"v":58},{"d":34.5,"v":130},{"d":35.0,"v":57},{"d":36.0,"v":48},{"d":36.5,"v":67},{"d":37.0,"v":48},{"d":37.3,"v":144},{"d":37.7,"v":75},{"d":38.8,"v":144},{"d":39.2,"v":149},{"d":39.5,"v":84},{"d":39.8,"v":91},{"d":40.2,"v":140},{"d":40.5,"v":50},{"d":40.8,"v":0},{"d":41.2,"v":81},{"d":41.7,"v":140},{"d":42.0,"v":83},{"d":42.5,"v":50},{"d":42.8,"v":77},{"d":43.2,"v":148},{"d":44.0,"v":139},{"d":45.8,"v":140},{"d":46.0,"v":147},{"d":46.7,"v":158},{"d":47.0,"v":48},{"d":47.3,"v":105},{"d":47.7,"v":56},{"d":48.0,"v":121},{"d":48.3,"v":65},{"d":49.7,"v":121},{"d":50.0,"v":48},{"d":50.5,"v":68},{"d":51.0,"v":145},{"d":51.5,"v":139},{"d":52.0,"v":148},{"d":52.5,"v":61},{"d":53.0,"v":65},{"d":53.4,"v":148},{"d":53.7,"v":65},{"d":55.1,"v":72},{"d":55.5,"v":65},{"d":56.1,"v":154},{"d":56.6,"v":135},{"d":57.2,"v":75},{"d":57.5,"v":145},{"d":57.9,"v":63},{"d":58.2,"v":150},{"d":58.7,"v":153},{"d":59.0,"v":59},{"d":59.4,"v":154},{"d":59.9,"v":67},{"d":60.6,"v":154},{"d":60.9,"v":71},{"d":61.2,"v":155},{"d":61.9,"v":0},{"d":62.2,"v":65},{"d":63.1,"v":105},{"d":63.6,"v":93},{"d":63.9,"v":139},{"d":65.2,"v":69},{"d":65.6,"v":147},{"d":66.2,"v":121},{"d":66.6,"v":88},{"d":66.9,"v":80},{"d":68.1,"v":143},{"d":68.9,"v":69},{"d":69.1,"v":150},{"d":69.6,"v":153},{"d":70.9,"v":155},{"d":71.6,"v":69},{"d":72.9,"v":97},{"d":73.2,"v":149},{"d":73.9,"v":88},{"d":74.2,"v":65},{"d":75.1,"v":149},{"d":76.4,"v":69},{"d":76.9,"v":150},{"d":77.4,"v":63},{"d":77.7,"v":149},{"d":78.2,"v":53},{"d":79.2,"v":150},{"d":80.4,"v":78},{"d":81.9,"v":131},{"d":83.4,"v":58},{"d":83.9,"v":149},{"d":84.4,"v":88},{"d":84.9,"v":149},{"d":85.2,"v":62},{"d":85.4,"v":0},{"d":86.2,"v":88},{"d":86.7,"v":75},{"d":87.1,"v":61},{"d":87.6,"v":142},{"d":88.9,"v":76},{"d":89.2,"v":145},{"d":89.7,"v":70},{"d":90.2,"v":150},{"d":92.7,"v":107},{"d":93.1,"v":82},{"d":93.4,"v":145},{"d":94.4,"v":107},{"d":94.7,"v":54},{"d":96.4,"v":94},{"d":96.9,"v":80},{"d":97.9,"v":102},{"d":98.4,"v":150},{"d":98.9,"v":131},{"d":99.4,"v":61},{"d":99.9,"v":107},{"d":100.1,"v":145},{"d":100.7,"v":54},{"d":101.2,"v":144},{"d":102.4,"v":146},{"d":102.8,"v":79},{"d":103.3,"v":144},{"d":104.6,"v":54},{"d":104.8,"v":162},{"d":105.3,"v":119},{"d":105.6,"v":156},{"d":106.0,"v":147},{"d":106.5,"v":53},{"d":106.8,"v":0},{"d":107.0,"v":154},{"d":107.4,"v":75},{"d":107.8,"v":153},{"d":108.3,"v":145},{"d":110.0,"v":73},{"d":110.5,"v":151},{"d":111.1,"v":53},{"d":112.3,"v":72},{"d":112.6,"v":162},{"d":113.3,"v":145},{"d":113.8,"v":67},{"d":114.9,"v":148},{"d":115.5,"v":75},{"d":116.0,"v":146},{"d":117.1,"v":155},{"d":117.7,"v":146},{"d":118.4,"v":80},{"d":118.8,"v":54},{"d":119.1,"v":136},{"d":119.5,"v":145},{"d":120.4,"v":73},{"d":121.0,"v":139},{"d":123.4,"v":91},{"d":124.5,"v":144},{"d":125.9,"v":151},{"d":126.5,"v":146},{"d":127.0,"v":98},{"d":127.5,"v":145},{"d":128.1,"v":91},{"d":129.5,"v":138},{"d":131.1,"v":139},{"d":131.4,"v":91},{"d":131.9,"v":126},{"d":132.5,"v":73},{"d":133.0,"v":146},{"d":133.8,"v":148},{"d":134.1,"v":66},{"d":134.7,"v":102},{"d":135.2,"v":91},{"d":136.9,"v":152},{"d":137.4,"v":68},{"d":138.0,"v":73},{"d":138.5,"v":135},{"d":138.9,"v":0},{"d":139.6,"v":135},{"d":140.0,"v":150},{"d":140.5,"v":73},{"d":140.8,"v":148},{"d":141.3,"v":145},{"d":142.2,"v":143},{"d":142.9,"v":144},{"d":145.1,"v":62},{"d":145.7,"v":152},{"d":146.2,"v":73},{"d":146.5,"v":152},{"d":147.0,"v":91},{"d":147.5,"v":152},{"d":148.1,"v":66},{"d":148.6,"v":152},{"d":149.3,"v":131},{"d":149.7,"v":152},{"d":150.2,"v":91},{"d":151.2,"v":158},{"d":151.7,"v":91},{"d":152.6,"v":74},{"d":153.1,"v":151},{"d":153.6,"v":58},{"d":153.9,"v":151},{"d":154.4,"v":91},{"d":155.8,"v":146},{"d":156.1,"v":155},{"d":156.4,"v":121},{"d":156.6,"v":126},{"d":158.0,"v":92},{"d":158.5,"v":135},{"d":159.1,"v":153},{"d":159.4,"v":87},{"d":159.9,"v":0},{"d":160.2,"v":48},{"d":160.5,"v":155},{"d":161.6,"v":158},{"d":162.1,"v":69},{"d":162.5,"v":164},{"d":163.0,"v":146},{"d":164.3,"v":115},{"d":164.9,"v":95},{"d":165.2,"v":49},{"d":165.6,"v":92},{"d":166.5,"v":49},{"d":167.1,"v":76},{"d":167.6,"v":121},{"d":168.0,"v":126},{"d":168.4,"v":73},{"d":168.7,"v":92},{"d":169.3,"v":132},{"d":169.8,"v":126},{"d":170.2,"v":63},{"d":170.9,"v":106},{"d":171.2,"v":138},{"d":171.8,"v":142},{"d":172.2,"v":110},{"d":172.6,"v":73},{"d":173.1,"v":117},{"d":173.7,"v":63},{"d":174.1,"v":155},{"d":174.5,"v":92},{"d":175.0,"v":147},{"d":175.3,"v":73},{"d":175.9,"v":60},{"d":176.2,"v":153},{"d":176.6,"v":76},{"d":177.1,"v":49},{"d":177.3,"v":92},{"d":178.6,"v":151},{"d":180.6,"v":78},{"d":180.9,"v":0},{"d":181.4,"v":106},{"d":181.9,"v":63},{"d":182.2,"v":151},{"d":182.8,"v":108},{"d":183.3,"v":137},{"d":183.8,"v":0},{"d":184.1,"v":73},{"d":184.6,"v":60},{"d":185.0,"v":157},{"d":185.3,"v":72},{"d":185.7,"v":163},{"d":186.8,"v":155},{"d":187.4,"v":151},{"d":187.7,"v":69},{"d":188.2,"v":0},{"d":188.5,"v":69},{"d":189.6,"v":110},{"d":189.9,"v":129},{"d":190.4,"v":67},{"d":192.3,"v":127},{"d":192.9,"v":149},{"d":193.4,"v":78},{"d":194.0,"v":149},{"d":195.1,"v":155},{"d":195.6,"v":69},{"d":196.2,"v":152},{"d":196.7,"v":69},{"d":197.1,"v":152},{"d":197.3,"v":62},{"d":197.6,"v":159},{"d":198.1,"v":152},{"d":200.0,"v":111},{"d":200.2,"v":127},{"d":201.9,"v":149},{"d":202.2,"v":0},{"d":202.4,"v":149},{"d":202.8,"v":68},{"d":203.3,"v":155},{"d":203.9,"v":67},{"d":204.2,"v":155},{"d":204.6,"v":67},{"d":205.0,"v":0},{"d":205.3,"v":159},
      {"d":205.9,"v":60},{"d":206.4,"v":148},{"d":206.9,"v":72},{"d":207.3,"v":150},{"d":207.8,"v":58},{"d":208.3,"v":142},{"d":208.8,"v":95},{"d":209.2,"v":152},{"d":209.7,"v":66},{"d":210.2,"v":138},{"d":210.6,"v":54},{"d":211.1,"v":150},{"d":211.6,"v":120},{"d":212.0,"v":64},{"d":212.5,"v":154},{"d":213.0,"v":78},{"d":213.4,"v":146},{"d":213.9,"v":52},{"d":214.4,"v":140},{"d":214.9,"v":66},{"d":215.3,"v":152},{"d":215.8,"v":100},{"d":216.3,"v":60},{"d":216.7,"v":148},{"d":217.2,"v":72},{"d":217.7,"v":156},{"d":218.2,"v":55},{"d":218.6,"v":134},{"d":219.1,"v":88},{"d":219.6,"v":151},{"d":220.0,"v":62},{"d":220.5,"v":147},{"d":221.0,"v":70},{"d":221.5,"v":153},{"d":221.9,"v":50},{"d":222.4,"v":140},{"d":222.9,"v":110},{"d":223.3,"v":152},{"d":223.8,"v":64},{"d":224.3,"v":145},{"d":224.8,"v":58},{"d":225.2,"v":150},{"d":225.7,"v":92},{"d":226.2,"v":61},{"d":226.6,"v":154},{"d":227.1,"v":75},{"d":227.6,"v":143},{"d":228.0,"v":52},{"d":228.5,"v":149},{"d":229.0,"v":68},{"d":229.5,"v":150},{"d":229.9,"v":118},{"d":230.4,"v":56},{"d":230.9,"v":152},{"d":231.3,"v":80},{"d":231.8,"v":146},{"d":232.3,"v":60},{"d":232.8,"v":153},{"d":233.2,"v":66},{"d":233.7,"v":139},{"d":234.2,"v":54},{"d":234.6,"v":150},{"d":235.1,"v":98},{"d":235.6,"v":148},{"d":236.1,"v":63},{"d":236.5,"v":155},{"d":237.0,"v":72},{"d":237.5,"v":144},{"d":237.9,"v":57},{"d":238.4,"v":151},{"d":238.9,"v":86},{"d":239.3,"v":60},{"d":239.8,"v":149},{"d":240.3,"v":70},{"d":240.8,"v":153},{"d":241.2,"v":52},{"d":241.7,"v":142},{"d":242.2,"v":106},{"d":242.6,"v":150},{"d":243.1,"v":64},{"d":243.6,"v":147},{"d":244.1,"v":58},{"d":244.5,"v":155},{"d":245.0,"v":78},{"d":245.5,"v":141},{"d":245.9,"v":60},{"d":246.4,"v":150},{"d":246.9,"v":94},{"d":247.4,"v":56},{"d":247.8,"v":152},{"d":248.3,"v":68},{"d":248.8,"v":146},{"d":249.2,"v":61},{"d":249.7,"v":154},{"d":250.2,"v":115},{"d":250.7,"v":53},{"d":251.1,"v":148},{"d":251.6,"v":74},{"d":252.1,"v":150},{"d":252.5,"v":62},{"d":253.0,"v":143},{"d":253.5,"v":57},{"d":254.0,"v":153},{"d":254.4,"v":90},{"d":254.9,"v":147},{"d":255.4,"v":65},{"d":255.8,"v":151},{"d":256.3,"v":52},{"d":256.8,"v":138},{"d":257.3,"v":70},{"d":257.7,"v":155},{"d":258.2,"v":60},{"d":258.7,"v":146},{"d":259.1,"v":102},{"d":259.6,"v":150},{"d":260.1,"v":58},{"d":260.6,"v":144},{"d":261.0,"v":66},{"d":261.5,"v":153},{"d":262.0,"v":54},{"d":262.4,"v":149},{"d":262.9,"v":82},{"d":263.4,"v":62},{"d":263.8,"v":151},{"d":264.3,"v":73},{"d":264.8,"v":147},{"d":265.3,"v":56},{"d":265.7,"v":154},{"d":266.2,"v":96},{"d":266.7,"v":140},{"d":267.1,"v":60},{"d":267.6,"v":152},{"d":268.1,"v":68},{"d":268.6,"v":145},{"d":269.0,"v":52},{"d":269.5,"v":150},{"d":270.0,"v":112},{"d":270.4,"v":64},{"d":270.9,"v":153},{"d":271.4,"v":77},{"d":271.8,"v":148},{"d":272.3,"v":58},{"d":272.8,"v":155},{"d":273.3,"v":66},{"d":273.7,"v":142},{"d":274.2,"v":54},{"d":274.7,"v":151},{"d":275.1,"v":88},{"d":275.6,"v":146},{"d":276.1,"v":62},{"d":276.6,"v":153},{"d":277.0,"v":70},{"d":277.5,"v":140},{"d":278.0,"v":56},{"d":278.4,"v":150},{"d":278.9,"v":104},{"d":279.4,"v":60},{"d":279.9,"v":154},{"d":280.3,"v":72},{"d":280.8,"v":147},{"d":281.3,"v":58},{"d":281.7,"v":152},{"d":282.2,"v":66},{"d":282.7,"v":144},{"d":283.1,"v":53},{"d":283.6,"v":155},{"d":284.1,"v":92},{"d":284.6,"v":148},{"d":285.0,"v":62},{"d":285.5,"v":151},{"d":286.0,"v":75},{"d":286.4,"v":146},{"d":286.9,"v":57},{"d":287.4,"v":153},{"d":287.8,"v":84},{"d":288.3,"v":61},{"d":288.8,"v":150},{"d":289.3,"v":68},{"d":289.7,"v":143},{"d":290.2,"v":54},{"d":290.7,"v":152},{"d":291.1,"v":100},{"d":291.6,"v":147},
      {"d":292.0,"v":58},{"d":292.4,"v":154},{"d":292.7,"v":70},{"d":293.1,"v":148},{"d":293.4,"v":52},{"d":293.8,"v":151},{"d":294.1,"v":88},{"d":294.5,"v":145},{"d":294.8,"v":60},{"d":295.2,"v":153},{"d":295.5,"v":66},{"d":295.9,"v":140},{"d":296.2,"v":50},{"d":296.6,"v":155},{"d":296.9,"v":78},{"d":297.3,"v":147},{"d":297.6,"v":57},{"d":298.0,"v":152},{"d":298.3,"v":110},{"d":298.7,"v":62},{"d":299.0,"v":150},{"d":299.4,"v":69},{"d":299.7,"v":146},{"d":300.1,"v":51},{"d":300.4,"v":154},{"d":300.8,"v":94},{"d":301.1,"v":143},{"d":301.5,"v":59},{"d":301.8,"v":151},{"d":302.2,"v":72},{"d":302.5,"v":148},{"d":302.9,"v":54},{"d":303.2,"v":155},{"d":303.6,"v":84},{"d":303.9,"v":61},{"d":304.3,"v":149},{"d":304.6,"v":67},{"d":305.0,"v":144},{"d":305.3,"v":50},{"d":305.7,"v":153},{"d":306.0,"v":102},{"d":306.4,"v":147},{"d":306.7,"v":58},{"d":307.1,"v":152},{"d":307.4,"v":75},{"d":307.8,"v":141},{"d":308.1,"v":53},{"d":308.5,"v":155},{"d":308.8,"v":90},{"d":309.2,"v":60},{"d":309.5,"v":150},{"d":309.9,"v":68},{"d":310.2,"v":146},{"d":310.6,"v":51},{"d":310.9,"v":154},{"d":311.3,"v":118},{"d":311.6,"v":148},{"d":312.0,"v":57},{"d":312.3,"v":152},{"d":312.7,"v":73},{"d":313.0,"v":143},{"d":313.4,"v":55},{"d":313.7,"v":155},{"d":314.1,"v":86},{"d":314.4,"v":62},{"d":314.8,"v":149},{"d":315.1,"v":66},{"d":315.5,"v":145},{"d":315.8,"v":50},{"d":316.2,"v":153},{"d":316.5,"v":98},{"d":316.9,"v":147},{"d":317.2,"v":59},{"d":317.6,"v":151},{"d":317.9,"v":71},{"d":318.3,"v":140},{"d":318.6,"v":53},{"d":319.0,"v":154},{"d":319.3,"v":92},{"d":319.7,"v":61},{"d":320.0,"v":150},{"d":320.4,"v":68},{"d":320.7,"v":146},{"d":321.1,"v":51},{"d":321.4,"v":155},{"d":321.8,"v":106},{"d":322.1,"v":148},{"d":322.5,"v":56},{"d":322.8,"v":152},{"d":323.2,"v":74},{"d":323.5,"v":142},{"d":323.9,"v":54},{"d":324.2,"v":154},{"d":324.6,"v":88},{"d":324.9,"v":60},{"d":325.3,"v":151},{"d":325.6,"v":67},{"d":326.0,"v":145},{"d":326.3,"v":50},{"d":326.7,"v":153},{"d":327.0,"v":114},{"d":327.4,"v":147},{"d":327.7,"v":58},{"d":328.1,"v":152},{"d":328.4,"v":76},{"d":328.8,"v":141},{"d":329.1,"v":53},{"d":329.5,"v":155},{"d":329.8,"v":96},{"d":330.2,"v":62},{"d":330.5,"v":149},{"d":330.9,"v":69},{"d":331.2,"v":146},{"d":331.6,"v":51},{"d":331.9,"v":154},{"d":332.3,"v":100},{"d":332.6,"v":148},{"d":333.0,"v":57},{"d":333.3,"v":151},{"d":333.7,"v":72},{"d":334.0,"v":143},{"d":334.4,"v":55},{"d":334.7,"v":155},{"d":335.1,"v":85},{"d":335.4,"v":61},{"d":335.8,"v":150},{"d":336.1,"v":66},{"d":336.5,"v":145},{"d":336.8,"v":50},{"d":337.2,"v":153},{"d":337.5,"v":108},{"d":337.9,"v":147},{"d":338.2,"v":59},{"d":338.6,"v":152},{"d":338.9,"v":73},{"d":339.3,"v":140},{"d":339.6,"v":53},{"d":340.0,"v":154},{"d":340.3,"v":90},{"d":340.7,"v":60},{"d":341.0,"v":150},
      {"d":341.5,"v":68},{"d":342.0,"v":146},{"d":342.4,"v":52},{"d":342.9,"v":154},{"d":343.4,"v":95},{"d":343.8,"v":147},{"d":344.3,"v":58},{"d":344.8,"v":151},{"d":345.2,"v":74},{"d":345.7,"v":142},{"d":346.2,"v":54},{"d":346.6,"v":153},{"d":347.1,"v":86},{"d":347.6,"v":61},{"d":348.0,"v":149},{"d":348.5,"v":67},{"d":349.0,"v":144},{"d":349.4,"v":51},{"d":349.9,"v":152},{"d":350.4,"v":104},{"d":350.8,"v":146},{"d":351.3,"v":57},{"d":351.8,"v":151},{"d":352.2,"v":72},{"d":352.7,"v":140},{"d":353.2,"v":54},{"d":353.6,"v":153},{"d":354.1,"v":92},{"d":354.6,"v":60},{"d":355.0,"v":150},{"d":355.5,"v":66},{"d":356.0,"v":145},{"d":356.4,"v":52},{"d":356.9,"v":151},{"d":357.4,"v":98},{"d":357.8,"v":148},{"d":358.3,"v":56},{"d":358.8,"v":152},{"d":359.2,"v":80},{"d":359.8,"v":150},{"d":360.4,"v":66},{"d":361.0,"v":146},{"d":361.6,"v":100},{"d":362.1,"v":152},{"d":362.7,"v":62},{"d":363.3,"v":140},{"d":363.8,"v":84},{"d":364.3,"v":130}
    ],
    "ax": [{"d":100,"v":90}]
  },
  "vconcat": [
    {
      "width": 2325,
      "height": 1902,
      "resolve": {"axis": {"x": "independent", "y": "independent"}},
      "layer": [
        {
          "data": {"name": "ev"},
          "mark": {"type": "rule", "color": "#00ffff", "strokeWidth": 3},
          "encoding": {
            "x": {"field": "d", "type": "quantitative", "scale": {"domain": [1, 365], "nice": false, "zero": false}, "axis": null},
            "y": {"field": "lo", "type": "quantitative", "scale": {"domain": [-40, 60], "nice": false, "zero": false},
                  "axis": {"orient": "left", "values": [-40, -20, 0, 20, 40, 60], "ticks": false, "labelPadding": 14, "title": "TSC Motor Temp (ᵒ C)", "titlePadding": 18, "labelExpr": "replace(datum.label, '-', '−')"}},
            "y2": {"field": "hi"}
          }
        },
        {
          "data": {"name": "sta"},
          "mark": {"type": "line", "color": "#0000ff", "strokeWidth": 9, "strokeJoin": "miter"},
          "encoding": {
            "x": {"field": "d", "type": "quantitative", "scale": {"domain": [1, 365], "nice": false, "zero": false}, "axis": null},
            "y": {"field": "v", "type": "quantitative", "scale": {"domain": [-40, 60], "nice": false, "zero": false}, "axis": null}
          }
        },
        {
          "data": {"name": "stp"},
          "mark": {"type": "line", "color": "#ff0000", "strokeWidth": 9, "strokeJoin": "miter"},
          "encoding": {
            "x": {"field": "d", "type": "quantitative", "scale": {"domain": [1, 365], "nice": false, "zero": false}, "axis": null},
            "y": {"field": "v", "type": "quantitative", "scale": {"domain": [-40, 60], "nice": false, "zero": false}, "axis": null}
          }
        },
        {
          "data": {"name": "ev"},
          "mark": {"type": "point", "shape": "circle", "filled": false, "color": "#0000ff", "strokeWidth": 1.8, "size": 40, "opacity": 1},
          "encoding": {
            "x": {"field": "d", "type": "quantitative", "scale": {"domain": [1, 365], "nice": false, "zero": false},
                  "axis": {"orient": "bottom", "values": [50, 100, 150, 200, 250, 300, 350], "labels": false, "tickSize": -16.4, "title": null}},
            "y": {"field": "lo", "type": "quantitative", "scale": {"domain": [-40, 60], "nice": false, "zero": false},
                  "axis": {"orient": "left", "values": [-40, -20, 0, 20, 40, 60], "labels": false, "tickSize": -18, "title": null}}
          }
        },
        {
          "data": {"name": "ev"},
          "mark": {"type": "point", "shape": "circle", "filled": false, "color": "#ff0000", "strokeWidth": 1.8, "size": 40, "opacity": 1},
          "encoding": {
            "x": {"field": "d", "type": "quantitative", "scale": {"domain": [1, 365], "nice": false, "zero": false},
                  "axis": {"orient": "top", "values": [50, 100, 150, 200, 250, 300, 350], "labels": false, "tickSize": -16.4, "title": null}},
            "y": {"field": "hi", "type": "quantitative", "scale": {"domain": [-40, 60], "nice": false, "zero": false},
                  "axis": {"orient": "right", "values": [-40, -20, 0, 20, 40, 60], "labels": false, "tickSize": -18, "title": null}}
          }
        },
        {
          "data": {"name": "dots"},
          "mark": {"type": "point", "shape": "circle", "filled": true, "color": "#ff0000", "size": 38, "opacity": 1},
          "encoding": {
            "x": {"field": "d", "type": "quantitative", "scale": {"domain": [1, 365], "nice": false, "zero": false}, "axis": null},
            "y": {"field": "v", "type": "quantitative", "scale": {"domain": [-40, 60], "nice": false, "zero": false}, "axis": null}
          }
        },
        {
          "data": {"values": [{"d": 19.64, "v": 60.48, "t": "SIM TSC Moter Temperatures"}]},
          "mark": {"type": "text", "align": "left", "baseline": "alphabetic", "color": "black", "fontSize": 58.5, "fontWeight": "bold"},
          "encoding": {
            "x": {"field": "d", "type": "quantitative", "scale": {"domain": [1, 365], "nice": false, "zero": false}, "axis": null},
            "y": {"field": "v", "type": "quantitative", "scale": {"domain": [-40, 60], "nice": false, "zero": false}, "axis": null},
            "text": {"field": "t"}
          }
        },
        {
          "data": {"values": [{"d": 346.6, "v": 60.48, "t": "Year: 2014"}]},
          "mark": {"type": "text", "align": "right", "baseline": "alphabetic", "color": "black", "fontSize": 58.5, "fontWeight": "bold"},
          "encoding": {
            "x": {"field": "d", "type": "quantitative", "scale": {"domain": [1, 365], "nice": false, "zero": false}, "axis": null},
            "y": {"field": "v", "type": "quantitative", "scale": {"domain": [-40, 60], "nice": false, "zero": false}, "axis": null},
            "text": {"field": "t"}
          }
        },
        {
          "data": {"name": "ann"},
          "mark": {"type": "text", "align": "left", "baseline": "alphabetic", "fontSize": 58.5, "fontWeight": "bold"},
          "encoding": {
            "x": {"field": "d", "type": "quantitative", "scale": {"domain": [1, 365], "nice": false, "zero": false}, "axis": null},
            "y": {"field": "v", "type": "quantitative", "scale": {"domain": [-40, 60], "nice": false, "zero": false}, "axis": null},
            "text": {"field": "t"},
            "color": {"field": "s", "type": "nominal", "scale": {"domain": ["stop", "start"], "range": ["#ff0000", "#0000ff"]}, "legend": null}
          }
        },
        {
          "data": {"name": "sup"},
          "mark": {"type": "text", "align": "left", "baseline": "alphabetic", "fontSize": 30, "fontWeight": "normal", "fontStyle": "italic"},
          "encoding": {
            "x": {"field": "d", "type": "quantitative", "scale": {"domain": [1, 365], "nice": false, "zero": false}, "axis": null},
            "y": {"field": "v", "type": "quantitative", "scale": {"domain": [-40, 60], "nice": false, "zero": false}, "axis": null},
            "text": {"field": "t"},
            "color": {"field": "s", "type": "nominal", "scale": {"domain": ["stop", "start"], "range": ["#ff0000", "#0000ff"]}, "legend": null}
          }
        }
      ]
    },
    {
      "width": 2325,
      "height": 634,
      "resolve": {"axis": {"x": "independent", "y": "independent"}},
      "layer": [
        {
          "data": {"name": "dt"},
          "mark": {"type": "point", "shape": "circle", "filled": true, "color": "#0000ff", "size": 30, "opacity": 1},
          "encoding": {
            "x": {"field": "d", "type": "quantitative", "scale": {"domain": [1, 365], "nice": false, "zero": false}, "axis": null},
            "y": {"field": "v", "type": "quantitative", "scale": {"domain": [-20, 20], "nice": false, "zero": false},
                  "axis": {"orient": "left", "values": [-20, -15, -10, -5, 0, 5, 10, 15, 20], "ticks": false, "labelPadding": 14, "title": "Δ T (ᵒ C)", "titlePadding": 18, "labelExpr": "replace(datum.label, '-', '−')"}}
          }
        },
        {
          "data": {"name": "fit"},
          "mark": {"type": "line", "color": "#00ff00", "strokeWidth": 13},
          "encoding": {
            "x": {"field": "d", "type": "quantitative", "scale": {"domain": [1, 365], "nice": false, "zero": false},
                  "axis": {"orient": "bottom", "values": [50, 100, 150, 200, 250, 300, 350], "labels": false, "tickSize": -16.4, "title": null}},
            "y": {"field": "v", "type": "quantitative", "scale": {"domain": [-20, 20], "nice": false, "zero": false},
                  "axis": {"orient": "left", "values": [-20, -15, -10, -5, 0, 5, 10, 15, 20], "labels": false, "tickSize": -18, "title": null}}
          }
        },
        {
          "data": {"values": [{"d": 38.1, "v": -15.93, "t": "Slope:\u00a0 -0.001"}]},
          "mark": {"type": "text", "align": "left", "baseline": "alphabetic", "color": "black", "fontSize": 58.5, "fontWeight": "bold"},
          "encoding": {
            "x": {"field": "d", "type": "quantitative", "scale": {"domain": [1, 365], "nice": false, "zero": false},
                  "axis": {"orient": "top", "values": [50, 100, 150, 200, 250, 300, 350], "labels": false, "tickSize": -16.4, "title": null}},
            "y": {"field": "v", "type": "quantitative", "scale": {"domain": [-20, 20], "nice": false, "zero": false},
                  "axis": {"orient": "right", "values": [-20, -15, -10, -5, 0, 5, 10, 15, 20], "labels": false, "tickSize": -18, "title": null}},
            "text": {"field": "t"}
          }
        }
      ]
    },
    {
      "width": 2325,
      "height": 634,
      "resolve": {"axis": {"x": "independent", "y": "independent"}},
      "layer": [
        {
          "data": {"name": "pa"},
          "mark": {"type": "line", "color": "#00ff00", "strokeWidth": 2, "interpolate": "step-after"},
          "encoding": {
            "x": {"field": "d", "type": "quantitative", "scale": {"domain": [1, 365], "nice": false, "zero": false},
                  "axis": {"orient": "bottom", "values": [50, 100, 150, 200, 250, 300, 350], "ticks": false, "labelPadding": 18, "title": "Time (yday)", "titlePadding": 3.6}},
            "y": {"field": "v", "type": "quantitative", "scale": {"domain": [0, 180], "nice": false, "zero": false},
                  "axis": {"orient": "left", "values": [0, 20, 40, 60, 80, 100, 120, 140, 160, 180], "ticks": false, "labelPadding": 14, "title": "Pitch Angle", "titlePadding": 18}}
          }
        },
        {
          "data": {"name": "ax"},
          "mark": {"type": "point", "opacity": 0},
          "encoding": {
            "x": {"field": "d", "type": "quantitative", "scale": {"domain": [1, 365], "nice": false, "zero": false},
                  "axis": {"orient": "bottom", "values": [50, 100, 150, 200, 250, 300, 350], "labels": false, "tickSize": -16.4, "title": null}},
            "y": {"field": "v", "type": "quantitative", "scale": {"domain": [0, 180], "nice": false, "zero": false},
                  "axis": {"orient": "left", "values": [0, 20, 40, 60, 80, 100, 120, 140, 160, 180], "labels": false, "tickSize": -18, "title": null}}
          }
        },
        {
          "data": {"name": "ax"},
          "mark": {"type": "point", "opacity": 0},
          "encoding": {
            "x": {"field": "d", "type": "quantitative", "scale": {"domain": [1, 365], "nice": false, "zero": false},
                  "axis": {"orient": "top", "values": [50, 100, 150, 200, 250, 300, 350], "labels": false, "tickSize": -16.4, "title": null}},
            "y": {"field": "v", "type": "quantitative", "scale": {"domain": [0, 180], "nice": false, "zero": false},
                  "axis": {"orient": "right", "values": [0, 20, 40, 60, 80, 100, 120, 140, 160, 180], "labels": false, "tickSize": -18, "title": null}}
          }
        }
      ]
    }
  ]
}
